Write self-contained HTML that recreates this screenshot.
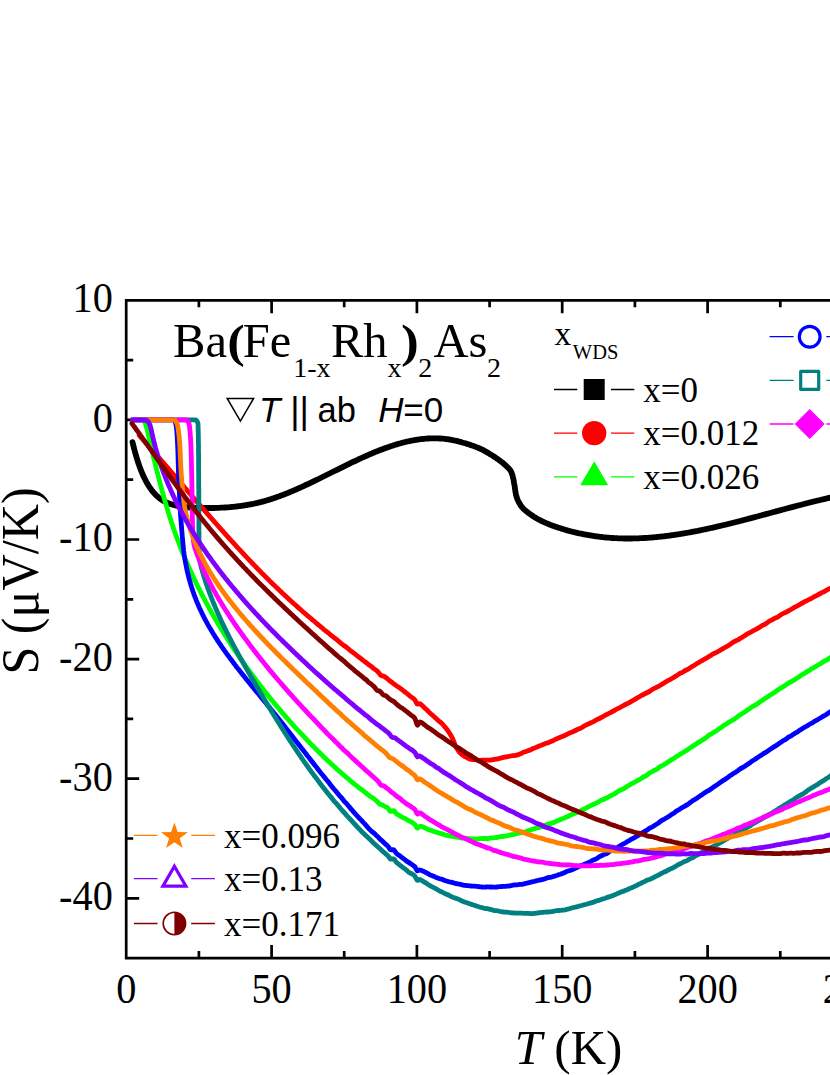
<!DOCTYPE html>
<html><head><meta charset="utf-8"><title>Thermoelectric power</title>
<style>
html,body{margin:0;padding:0;background:#fff;}
body{width:830px;height:1075px;overflow:hidden;font-family:"Liberation Serif",serif;}
svg{display:block;}
</style></head><body>
<svg width="830" height="1075" viewBox="0 0 830 1075">
<rect width="830" height="1075" fill="#fff"/>
<g stroke="#000" stroke-width="2.7" fill="none" stroke-linecap="square">
<path d="M126.2 300.3 V958.1 H832 M126.2 300.3 H832"/>
<path stroke-linecap="butt" d="M198.9 958.1 v-7 M198.9 300.3 v7 M271.6 958.1 v-13 M271.6 300.3 v13 M344.2 958.1 v-7 M344.2 300.3 v7 M416.9 958.1 v-13 M416.9 300.3 v13 M489.6 958.1 v-7 M489.6 300.3 v7 M562.2 958.1 v-13 M562.2 300.3 v13 M634.9 958.1 v-7 M634.9 300.3 v7 M707.6 958.1 v-13 M707.6 300.3 v13 M780.3 958.1 v-7 M780.3 300.3 v7 M853.0 958.1 v-13 M853.0 300.3 v13 M126.2 898.3 h13 M126.2 838.5 h7 M126.2 778.7 h13 M126.2 718.9 h7 M126.2 659.1 h13 M126.2 599.3 h7 M126.2 539.5 h13 M126.2 479.7 h7 M126.2 419.9 h13 M126.2 360.1 h7"/>
</g>
<defs><clipPath id="c"><rect x="126.2" y="300.3" width="713.8" height="657.8"/></clipPath></defs>
<g clip-path="url(#c)" fill="none" stroke-width="4.8" stroke-linejoin="round" stroke-linecap="round">
<path stroke="#000000" stroke-width="5.8" d="M132.5 442.1 L133.5 446.2 L134.5 450.1 L135.5 453.8 L136.5 457.2 L137.5 460.5 L138.5 463.5 L139.5 466.4 L140.5 469.1 L141.5 471.6 L142.5 474.0 L143.5 476.2 L144.5 478.3 L145.5 480.3 L146.5 482.2 L147.5 483.9 L148.5 485.5 L149.5 487.1 L150.5 488.5 L151.5 489.9 L152.5 491.2 L153.5 492.4 L154.5 493.5 L155.5 494.6 L156.5 495.6 L157.5 496.5 L158.5 497.4 L159.5 498.2 L160.5 499.0 L161.5 499.7 L162.5 500.3 L163.5 500.9 L164.5 501.5 L165.5 502.0 L166.5 502.5 L167.5 502.9 L168.5 503.3 L169.5 503.7 L170.5 504.0 L171.5 504.3 L172.5 504.6 L173.5 504.9 L174.5 505.1 L175.5 505.4 L176.5 505.6 L177.5 505.8 L178.5 506.0 L179.5 506.2 L180.5 506.4 L181.5 506.5 L182.5 506.7 L183.5 506.8 L184.5 507.0 L185.5 507.1 L186.5 507.2 L187.5 507.3 L188.5 507.4 L189.5 507.5 L190.5 507.6 L191.5 507.6 L192.5 507.7 L193.5 507.8 L194.5 507.8 L195.5 507.9 L196.5 507.9 L197.5 507.9 L198.5 508.0 L199.5 508.0 L200.5 508.0 L201.5 508.0 L202.5 508.0 L203.5 508.0 L204.5 508.0 L205.5 508.0 L206.5 508.0 L207.5 508.0 L208.5 508.0 L209.5 508.0 L210.5 508.0 L211.5 508.0 L212.5 508.0 L213.5 508.0 L214.5 508.0 L215.5 507.9 L216.5 507.9 L217.5 507.9 L218.5 507.8 L219.5 507.8 L220.5 507.7 L221.5 507.7 L222.5 507.6 L223.5 507.6 L224.5 507.5 L225.5 507.5 L226.5 507.4 L227.5 507.3 L228.5 507.3 L229.5 507.2 L230.5 507.1 L231.5 507.0 L232.5 506.9 L233.5 506.8 L234.5 506.7 L235.5 506.6 L236.5 506.5 L237.5 506.4 L238.5 506.2 L239.5 506.1 L240.5 506.0 L241.5 505.8 L242.5 505.7 L243.5 505.6 L244.5 505.4 L245.5 505.2 L246.5 505.1 L247.5 504.9 L248.5 504.7 L249.5 504.5 L250.5 504.4 L251.5 504.2 L252.5 504.0 L253.5 503.8 L254.5 503.5 L255.5 503.3 L256.5 503.1 L257.5 502.9 L258.5 502.6 L259.5 502.4 L260.5 502.1 L261.5 501.9 L262.5 501.6 L263.5 501.3 L264.5 501.1 L265.5 500.8 L266.5 500.5 L267.5 500.2 L268.5 499.9 L269.5 499.6 L270.5 499.3 L271.5 498.9 L272.5 498.6 L273.5 498.3 L274.5 497.9 L275.5 497.6 L276.5 497.2 L277.5 496.9 L278.5 496.5 L279.5 496.2 L280.5 495.8 L281.5 495.4 L282.5 495.0 L283.5 494.7 L284.5 494.3 L285.5 493.9 L286.5 493.5 L287.5 493.1 L288.5 492.7 L289.5 492.3 L290.5 491.8 L291.5 491.4 L292.5 491.0 L293.5 490.6 L294.5 490.1 L295.5 489.7 L296.5 489.3 L297.5 488.8 L298.5 488.4 L299.5 487.9 L300.5 487.5 L301.5 487.0 L302.5 486.6 L303.5 486.1 L304.5 485.7 L305.5 485.2 L306.5 484.7 L307.5 484.3 L308.5 483.8 L309.5 483.3 L310.5 482.9 L311.5 482.4 L312.5 481.9 L313.5 481.4 L314.5 480.9 L315.5 480.4 L316.5 480.0 L317.5 479.5 L318.5 479.0 L319.5 478.5 L320.5 478.0 L321.5 477.5 L322.5 477.0 L323.5 476.5 L324.5 476.0 L325.5 475.5 L326.5 475.0 L327.5 474.5 L328.5 474.0 L329.5 473.5 L330.5 473.0 L331.5 472.5 L332.5 472.0 L333.5 471.5 L334.5 471.0 L335.5 470.6 L336.5 470.1 L337.5 469.6 L338.5 469.1 L339.5 468.6 L340.5 468.1 L341.5 467.6 L342.5 467.1 L343.5 466.6 L344.5 466.1 L345.5 465.6 L346.5 465.1 L347.5 464.6 L348.5 464.1 L349.5 463.7 L350.5 463.2 L351.5 462.7 L352.5 462.2 L353.5 461.7 L354.5 461.3 L355.5 460.8 L356.5 460.3 L357.5 459.9 L358.5 459.4 L359.5 458.9 L360.5 458.5 L361.5 458.0 L362.5 457.5 L363.5 457.1 L364.5 456.6 L365.5 456.2 L366.5 455.8 L367.5 455.3 L368.5 454.9 L369.5 454.4 L370.5 454.0 L371.5 453.6 L372.5 453.2 L373.5 452.7 L374.5 452.3 L375.5 451.9 L376.5 451.5 L377.5 451.1 L378.5 450.7 L379.5 450.3 L380.5 449.9 L381.5 449.6 L382.5 449.2 L383.5 448.8 L384.5 448.4 L385.5 448.1 L386.5 447.7 L387.5 447.4 L388.5 447.0 L389.5 446.7 L390.5 446.3 L391.5 446.0 L392.5 445.7 L393.5 445.3 L394.5 445.0 L395.5 444.7 L396.5 444.4 L397.5 444.1 L398.5 443.8 L399.5 443.5 L400.5 443.3 L401.5 443.0 L402.5 442.7 L403.5 442.5 L404.5 442.2 L405.5 442.0 L406.5 441.7 L407.5 441.5 L408.5 441.3 L409.5 441.1 L410.5 440.9 L411.5 440.7 L412.5 440.5 L413.5 440.3 L414.5 440.1 L415.5 439.9 L416.5 439.8 L417.5 439.6 L418.5 439.5 L419.5 439.3 L420.5 439.2 L421.5 439.1 L422.5 439.0 L423.5 438.9 L424.5 438.8 L425.5 438.7 L426.5 438.6 L427.5 438.5 L428.5 438.5 L429.5 438.4 L430.5 438.4 L431.5 438.4 L432.5 438.3 L433.5 438.3 L434.5 438.3 L435.5 438.3 L436.5 438.3 L437.5 438.4 L438.5 438.4 L439.5 438.5 L440.5 438.5 L441.5 438.6 L442.5 438.7 L443.5 438.7 L444.5 438.8 L445.5 439.0 L446.5 439.1 L447.5 439.2 L448.5 439.4 L449.5 439.5 L450.5 439.7 L451.5 439.9 L452.5 440.1 L453.5 440.3 L454.5 440.5 L455.5 440.7 L456.5 440.9 L457.5 441.2 L458.5 441.4 L459.4 441.7 L460.4 441.9 L461.4 442.2 L462.3 442.5 L463.3 442.8 L464.3 443.0 L465.3 443.3 L466.2 443.6 L467.2 443.9 L468.2 444.2 L469.2 444.5 L470.1 444.9 L471.1 445.2 L472.0 445.5 L473.0 445.8 L473.9 446.2 L474.9 446.5 L475.8 446.9 L476.8 447.3 L477.7 447.6 L478.6 448.0 L479.5 448.4 L480.4 448.8 L481.4 449.2 L482.3 449.7 L483.2 450.1 L484.1 450.6 L485.0 451.1 L485.8 451.6 L486.7 452.1 L487.6 452.6 L488.5 453.1 L489.4 453.7 L490.2 454.2 L491.1 454.7 L491.9 455.3 L492.8 455.8 L493.6 456.4 L494.5 456.9 L495.3 457.5 L496.2 458.0 L497.0 458.6 L497.8 459.2 L498.7 459.8 L499.5 460.4 L500.3 461.0 L501.1 461.6 L501.9 462.2 L502.7 462.8 L503.5 463.5 L504.3 464.2 L505.0 464.8 L505.7 465.5 L506.5 466.2 L507.2 466.9 L508.0 467.7 L508.7 468.4 L509.4 469.2 L510.1 470.0 L510.6 470.8 L511.1 471.6 L511.5 472.5 L511.8 473.4 L512.1 474.3 L512.4 475.2 L512.7 476.2 L512.9 477.2 L513.1 478.2 L513.4 479.2 L513.6 480.3 L513.8 481.3 L513.9 482.3 L514.1 483.3 L514.3 484.3 L514.5 485.3 L514.7 486.3 L514.8 487.3 L514.9 488.3 L515.1 489.3 L515.2 490.3 L515.4 491.4 L515.5 492.3 L515.7 493.3 L515.9 494.3 L516.1 495.3 L516.4 496.2 L516.7 497.2 L517.0 498.2 L517.4 499.1 L517.8 500.1 L518.2 501.0 L518.7 502.0 L519.2 502.9 L519.7 503.8 L520.2 504.6 L520.7 505.4 L521.3 506.2 L521.9 507.0 L522.5 507.7 L523.2 508.5 L523.9 509.2 L524.7 509.9 L525.5 510.6 L526.3 511.2 L527.1 511.9 L527.9 512.5 L528.7 513.1 L529.5 513.7 L530.4 514.3 L531.2 514.9 L532.0 515.5 L532.8 516.0 L533.7 516.6 L534.5 517.1 L535.4 517.6 L536.3 518.2 L537.2 518.7 L538.1 519.2 L539.0 519.7 L539.9 520.1 L540.8 520.6 L541.7 521.0 L542.6 521.5 L543.5 521.9 L544.4 522.3 L545.3 522.7 L546.2 523.1 L547.2 523.5 L548.1 523.9 L549.0 524.3 L550.0 524.7 L550.9 525.0 L551.9 525.4 L552.8 525.7 L553.8 526.1 L554.8 526.4 L555.7 526.7 L556.7 527.1 L557.6 527.4 L558.6 527.7 L559.6 528.0 L560.5 528.3 L561.5 528.6 L562.4 528.9 L563.4 529.2 L564.4 529.5 L565.3 529.8 L566.3 530.1 L567.3 530.4 L568.3 530.7 L569.2 531.0 L570.2 531.2 L571.2 531.5 L572.2 531.7 L573.1 532.0 L574.1 532.2 L575.1 532.4 L576.1 532.7 L577.1 532.9 L578.1 533.1 L579.1 533.3 L580.0 533.5 L581.0 533.7 L582.0 533.9 L583.0 534.1 L584.0 534.3 L585.0 534.5 L586.0 534.6 L587.0 534.8 L588.0 535.0 L589.0 535.1 L590.0 535.3 L591.0 535.5 L592.0 535.6 L593.0 535.8 L594.0 536.0 L595.0 536.1 L596.0 536.3 L597.0 536.4 L598.0 536.5 L599.0 536.7 L600.0 536.8 L601.0 536.9 L602.0 537.0 L603.0 537.2 L604.0 537.3 L605.0 537.4 L606.0 537.5 L607.0 537.6 L608.0 537.6 L609.0 537.7 L610.0 537.8 L611.0 537.9 L612.0 538.0 L613.0 538.0 L614.0 538.1 L615.0 538.1 L616.0 538.2 L617.0 538.2 L618.0 538.3 L619.0 538.3 L620.0 538.4 L621.0 538.4 L622.0 538.4 L623.0 538.4 L624.0 538.5 L625.0 538.5 L626.0 538.5 L627.0 538.5 L628.0 538.5 L629.0 538.5 L630.0 538.5 L631.0 538.5 L632.0 538.5 L633.0 538.4 L634.0 538.4 L635.0 538.4 L636.0 538.4 L637.0 538.3 L638.0 538.3 L639.0 538.3 L640.0 538.2 L641.0 538.2 L642.0 538.1 L643.0 538.1 L644.0 538.0 L645.0 538.0 L646.0 537.9 L647.0 537.9 L648.0 537.8 L649.0 537.7 L650.0 537.6 L651.0 537.6 L652.0 537.5 L653.0 537.4 L654.0 537.3 L655.0 537.2 L656.0 537.1 L657.0 537.0 L658.0 536.9 L659.0 536.8 L660.0 536.7 L661.0 536.6 L662.0 536.5 L663.0 536.4 L664.0 536.3 L665.0 536.1 L666.0 536.0 L667.0 535.9 L668.0 535.8 L669.0 535.6 L670.0 535.5 L671.0 535.4 L672.0 535.2 L673.0 535.1 L674.0 534.9 L675.0 534.8 L676.0 534.6 L677.0 534.5 L678.0 534.3 L679.0 534.2 L680.0 534.0 L681.0 533.9 L682.0 533.7 L683.0 533.5 L684.0 533.4 L685.0 533.2 L686.0 533.0 L687.0 532.8 L688.0 532.7 L689.0 532.5 L690.0 532.3 L691.0 532.1 L692.0 531.9 L693.0 531.7 L694.0 531.6 L695.0 531.4 L696.0 531.2 L697.0 531.0 L698.0 530.8 L699.0 530.6 L700.0 530.4 L701.0 530.2 L702.0 530.0 L703.0 529.7 L704.0 529.5 L705.0 529.3 L706.0 529.1 L707.0 528.9 L708.0 528.7 L709.0 528.5 L710.0 528.2 L711.0 528.0 L712.0 527.8 L713.0 527.6 L714.0 527.3 L715.0 527.1 L716.0 526.9 L717.0 526.7 L718.0 526.4 L719.0 526.2 L720.0 526.0 L721.0 525.7 L722.0 525.5 L723.0 525.2 L724.0 525.0 L725.0 524.8 L726.0 524.5 L727.0 524.3 L728.0 524.0 L729.0 523.8 L730.0 523.5 L731.0 523.3 L732.0 523.0 L733.0 522.8 L734.0 522.5 L735.0 522.3 L736.0 522.0 L737.0 521.8 L738.0 521.5 L739.0 521.3 L740.0 521.0 L741.0 520.8 L742.0 520.5 L743.0 520.2 L744.0 520.0 L745.0 519.7 L746.0 519.5 L747.0 519.2 L748.0 518.9 L749.0 518.7 L750.0 518.4 L751.0 518.1 L752.0 517.9 L753.0 517.6 L754.0 517.3 L755.0 517.1 L756.0 516.8 L757.0 516.5 L758.0 516.3 L759.0 516.0 L760.0 515.7 L761.0 515.5 L762.0 515.2 L763.0 514.9 L764.0 514.7 L765.0 514.4 L766.0 514.1 L767.0 513.8 L768.0 513.6 L769.0 513.3 L770.0 513.0 L771.0 512.8 L772.0 512.5 L773.0 512.2 L774.0 512.0 L775.0 511.7 L776.0 511.4 L777.0 511.1 L778.0 510.9 L779.0 510.6 L780.0 510.3 L781.0 510.1 L782.0 509.8 L783.0 509.5 L784.0 509.3 L785.0 509.0 L786.0 508.7 L787.0 508.5 L788.0 508.2 L789.0 507.9 L790.0 507.7 L791.0 507.4 L792.0 507.1 L793.0 506.9 L794.0 506.6 L795.0 506.3 L796.0 506.1 L797.0 505.8 L798.0 505.5 L799.0 505.3 L800.0 505.0 L801.0 504.8 L802.0 504.5 L803.0 504.3 L804.0 504.0 L805.0 503.7 L806.0 503.5 L807.0 503.2 L808.0 503.0 L809.0 502.7 L810.0 502.5 L811.0 502.2 L812.0 502.0 L813.0 501.7 L814.0 501.5 L815.0 501.2 L816.0 501.0 L817.0 500.7 L818.0 500.5 L819.0 500.3 L820.0 500.0 L821.0 499.8 L822.0 499.5 L823.0 499.3 L824.0 499.1 L825.0 498.8 L826.0 498.6 L827.0 498.4 L828.0 498.2 L829.0 497.9 L830.0 497.7 L831.0 497.5 L832.0 497.2"/>
<path stroke="#ff0000" stroke-width="4.8" d="M139.2 435.3 L139.8 436.0 L140.5 436.8 L141.2 437.5 L141.8 438.3 L142.5 439.0 L143.1 439.7 L143.8 440.5 L144.4 441.2 L145.1 441.9 L145.7 442.7 L146.4 443.4 L147.1 444.2 L147.7 444.9 L148.4 445.6 L149.0 446.4 L149.7 447.1 L150.3 447.9 L151.0 448.6 L151.6 449.4 L152.3 450.1 L152.9 450.9 L153.6 451.6 L154.3 452.3 L154.9 453.1 L155.6 453.8 L156.2 454.6 L156.9 455.3 L157.5 456.1 L158.2 456.8 L158.8 457.6 L159.5 458.3 L160.1 459.1 L160.8 459.8 L161.4 460.6 L162.1 461.3 L162.7 462.1 L163.4 462.8 L164.0 463.6 L164.7 464.3 L165.3 465.1 L166.0 465.8 L166.6 466.6 L167.3 467.3 L167.9 468.1 L168.6 468.9 L169.2 469.6 L169.9 470.4 L170.6 471.1 L171.2 471.9 L171.9 472.6 L172.5 473.4 L173.2 474.1 L173.8 474.9 L174.5 475.6 L175.1 476.4 L175.8 477.2 L176.4 477.9 L177.1 478.7 L177.7 479.4 L178.4 480.2 L179.0 480.9 L179.7 481.7 L180.3 482.5 L181.0 483.2 L181.6 484.0 L182.3 484.7 L182.9 485.5 L183.6 486.2 L184.2 487.0 L184.9 487.8 L185.5 488.5 L186.2 489.3 L186.8 490.0 L187.5 490.8 L188.1 491.6 L188.8 492.3 L189.5 493.1 L190.1 493.8 L190.8 494.6 L191.4 495.3 L192.1 496.1 L192.7 496.9 L193.4 497.6 L194.0 498.4 L194.7 499.1 L195.3 499.9 L196.0 500.6 L196.6 501.4 L197.3 502.2 L198.0 502.9 L198.6 503.7 L199.3 504.4 L199.9 505.2 L200.6 505.9 L201.2 506.7 L201.9 507.5 L202.6 508.2 L203.2 509.0 L203.9 509.7 L204.5 510.5 L205.2 511.2 L205.8 512.0 L206.5 512.8 L207.2 513.5 L207.8 514.3 L208.5 515.0 L209.1 515.8 L209.8 516.5 L210.5 517.3 L211.1 518.0 L211.8 518.8 L212.5 519.5 L213.1 520.3 L213.8 521.0 L214.4 521.8 L215.1 522.5 L215.8 523.3 L216.4 524.1 L217.1 524.8 L217.8 525.6 L218.4 526.3 L219.1 527.1 L219.8 527.8 L220.4 528.6 L221.1 529.3 L221.8 530.1 L222.4 530.8 L223.1 531.5 L223.8 532.3 L224.4 533.0 L225.1 533.8 L225.8 534.5 L226.4 535.3 L227.1 536.0 L227.8 536.8 L228.5 537.5 L229.1 538.3 L229.8 539.0 L230.5 539.7 L231.2 540.5 L231.8 541.2 L232.5 542.0 L233.2 542.7 L233.9 543.5 L234.5 544.2 L235.2 544.9 L235.9 545.7 L236.6 546.4 L237.2 547.2 L237.9 547.9 L238.6 548.6 L239.3 549.4 L240.0 550.1 L240.6 550.8 L241.3 551.6 L242.0 552.3 L242.7 553.0 L243.4 553.8 L244.1 554.5 L244.7 555.2 L245.4 556.0 L246.1 556.7 L246.8 557.4 L247.5 558.1 L248.2 558.9 L248.9 559.6 L249.6 560.3 L250.3 561.1 L250.9 561.8 L251.6 562.5 L252.3 563.2 L253.0 563.9 L253.7 564.7 L254.4 565.4 L255.1 566.1 L255.8 566.8 L256.5 567.6 L257.2 568.3 L257.9 569.0 L258.6 569.7 L259.3 570.4 L260.0 571.1 L260.7 571.8 L261.4 572.6 L262.1 573.3 L262.8 574.0 L263.5 574.7 L264.2 575.4 L264.9 576.1 L265.6 576.8 L266.3 577.5 L267.0 578.2 L267.8 578.9 L268.5 579.6 L269.2 580.4 L269.9 581.1 L270.6 581.8 L271.3 582.5 L272.0 583.2 L272.7 583.9 L273.5 584.6 L274.2 585.2 L274.9 585.9 L275.6 586.6 L276.3 587.3 L277.1 588.0 L277.8 588.7 L278.5 589.4 L279.2 590.1 L279.9 590.8 L280.7 591.5 L281.4 592.2 L282.1 592.9 L282.8 593.5 L283.6 594.2 L284.3 594.9 L285.0 595.6 L285.8 596.3 L286.5 596.9 L287.2 597.6 L288.0 598.3 L288.7 599.0 L289.4 599.6 L290.2 600.3 L290.9 601.0 L291.7 601.7 L292.4 602.3 L293.1 603.0 L293.9 603.7 L294.6 604.3 L295.4 605.0 L296.1 605.6 L296.9 606.3 L297.6 607.0 L298.3 607.7 L299.1 608.3 L299.8 609.0 L300.6 609.6 L301.3 610.3 L302.1 611.0 L302.8 611.6 L303.6 612.3 L304.4 612.9 L305.1 613.6 L305.9 614.2 L306.6 614.9 L307.4 615.5 L308.1 616.2 L308.9 616.8 L309.7 617.4 L310.4 618.1 L311.2 618.7 L311.9 619.4 L312.7 620.0 L313.5 620.7 L314.2 621.3 L315.0 622.0 L315.8 622.6 L316.5 623.3 L317.3 623.9 L318.1 624.6 L318.8 625.2 L319.6 625.8 L320.4 626.5 L321.1 627.1 L321.9 627.7 L322.7 628.4 L323.4 629.1 L324.2 629.8 L325.0 630.4 L325.8 631.0 L326.5 631.5 L327.3 632.1 L328.1 632.7 L328.9 633.4 L329.6 634.1 L330.4 634.7 L331.2 635.4 L332.0 636.0 L332.8 636.6 L333.5 637.2 L334.3 637.8 L335.1 638.4 L335.9 639.0 L336.7 639.6 L337.5 640.2 L338.2 640.9 L339.0 641.6 L339.8 642.2 L340.6 642.9 L341.4 643.6 L342.2 644.2 L342.9 644.8 L343.7 645.4 L344.5 645.9 L345.3 646.4 L346.1 647.0 L346.9 647.6 L347.7 648.3 L348.5 649.0 L349.2 649.6 L350.0 650.3 L350.8 650.9 L351.6 651.5 L352.4 652.1 L353.2 652.7 L354.0 653.2 L354.8 653.8 L355.6 654.5 L356.4 655.2 L357.2 655.8 L358.0 656.4 L358.8 657.0 L359.5 657.5 L360.3 658.1 L361.1 658.7 L361.9 659.4 L362.7 660.1 L363.5 660.7 L364.3 661.3 L365.1 661.9 L365.9 662.4 L366.7 663.0 L367.5 663.7 L368.3 664.4 L369.1 665.0 L369.9 665.5 L370.7 666.0 L371.5 666.6 L372.3 667.3 L373.1 668.1 L373.9 668.7 L374.7 669.2 L375.5 669.7 L376.3 670.3 L377.1 671.0 L377.9 671.8 L378.7 672.7 L379.5 673.7 L380.3 674.8 L381.1 675.5 L381.9 675.8 L382.7 675.9 L383.5 676.1 L384.3 676.5 L385.1 677.1 L385.9 677.6 L386.7 678.2 L387.5 678.8 L388.3 679.5 L389.1 680.3 L389.9 680.9 L390.7 681.5 L391.5 682.1 L392.3 682.6 L393.1 683.3 L393.9 683.9 L394.7 684.5 L395.5 685.1 L396.3 685.7 L397.1 686.3 L397.9 686.7 L398.7 687.2 L399.5 687.7 L400.3 688.3 L401.1 689.0 L401.9 689.6 L402.7 690.2 L403.5 690.7 L404.3 691.4 L405.1 692.1 L405.9 692.8 L406.7 693.3 L407.5 693.9 L408.3 694.6 L409.1 695.3 L409.9 696.0 L410.7 696.6 L411.5 697.2 L412.3 697.7 L413.1 698.2 L413.9 698.9 L414.7 699.7 L415.5 701.0 L416.3 702.6 L417.1 704.0 L417.9 704.2 L418.7 703.8 L419.5 703.6 L420.3 704.0 L421.1 704.6 L421.9 705.2 L422.6 705.9 L423.4 706.7 L424.1 707.4 L424.9 708.1 L425.6 708.8 L426.4 709.5 L427.1 710.1 L427.8 710.8 L428.5 711.6 L429.3 712.4 L430.0 713.1 L430.7 713.7 L431.4 714.3 L432.2 714.9 L432.9 715.7 L433.6 716.3 L434.4 717.0 L435.2 717.6 L435.9 718.3 L436.7 719.0 L437.5 719.8 L438.3 720.6 L439.0 721.2 L439.8 721.8 L440.6 722.3 L441.3 723.0 L442.1 723.7 L442.8 724.4 L443.5 725.3 L444.2 726.1 L444.8 726.8 L445.5 727.6 L446.1 728.4 L446.7 729.2 L447.3 730.0 L447.9 730.8 L448.5 731.6 L449.1 732.5 L449.6 733.4 L450.2 734.2 L450.7 735.1 L451.2 736.0 L451.7 736.9 L452.2 737.8 L452.6 738.7 L453.0 739.6 L453.4 740.5 L453.8 741.4 L454.1 742.3 L454.4 743.3 L454.8 744.4 L455.1 745.4 L455.5 746.2 L455.9 747.0 L456.4 747.7 L456.9 748.6 L457.5 749.4 L458.1 750.3 L458.7 751.3 L459.4 752.2 L460.1 753.0 L460.9 753.7 L461.6 754.4 L462.4 754.9 L463.2 755.5 L464.0 756.1 L464.9 756.6 L465.8 757.0 L466.7 757.5 L467.6 758.0 L468.6 758.5 L469.5 759.0 L470.5 759.3 L471.5 759.5 L472.4 759.5 L473.4 759.5 L474.4 759.5 L475.4 759.5 L476.4 759.7 L477.4 760.0 L478.4 760.3 L479.5 760.4 L480.5 760.3 L481.5 760.2 L482.6 760.1 L483.6 760.1 L484.6 760.2 L485.6 760.2 L486.6 760.2 L487.6 760.2 L488.6 760.2 L489.6 760.1 L490.6 760.0 L491.6 759.9 L492.6 759.8 L493.6 759.5 L494.6 759.4 L495.6 759.2 L496.6 759.1 L497.6 758.8 L498.6 758.6 L499.6 758.4 L500.6 758.1 L501.6 757.9 L502.6 757.6 L503.6 757.4 L504.6 757.2 L505.6 757.0 L506.6 756.9 L507.6 756.7 L508.6 756.5 L509.6 756.2 L510.6 756.0 L511.6 755.8 L512.6 755.7 L513.5 755.7 L514.5 755.6 L515.5 755.4 L516.5 755.2 L517.5 754.9 L518.5 754.6 L519.4 754.2 L520.4 753.8 L521.4 753.3 L522.3 752.8 L523.3 752.3 L524.2 752.0 L525.2 751.8 L526.1 751.4 L527.1 751.0 L528.0 750.7 L529.0 750.4 L529.9 750.1 L530.8 749.8 L531.8 749.2 L532.7 748.7 L533.6 748.3 L534.6 748.0 L535.5 747.6 L536.5 747.2 L537.4 746.8 L538.4 746.3 L539.4 745.9 L540.4 745.5 L541.4 745.2 L542.4 744.8 L543.4 744.3 L544.4 743.9 L545.4 743.5 L546.4 743.2 L547.4 742.9 L548.4 742.6 L549.4 742.2 L550.4 741.7 L551.4 741.3 L552.4 740.9 L553.4 740.5 L554.4 739.9 L555.4 739.4 L556.4 738.9 L557.4 738.5 L558.4 738.1 L559.4 737.7 L560.4 737.2 L561.4 736.8 L562.4 736.4 L563.4 736.0 L564.4 735.6 L565.4 735.2 L566.4 734.6 L567.4 734.1 L568.4 733.6 L569.4 733.1 L570.4 732.7 L571.4 732.3 L572.4 731.9 L573.4 731.5 L574.4 731.0 L575.4 730.5 L576.4 730.0 L577.4 729.5 L578.4 729.1 L579.4 728.7 L580.4 728.3 L581.4 727.8 L582.4 727.2 L583.4 726.5 L584.4 725.9 L585.4 725.4 L586.4 724.9 L587.4 724.4 L588.4 723.9 L589.4 723.5 L590.4 723.0 L591.4 722.6 L592.4 722.2 L593.4 721.7 L594.4 721.1 L595.4 720.5 L596.4 719.9 L597.4 719.4 L598.4 719.0 L599.4 718.5 L600.4 718.0 L601.4 717.5 L602.4 716.9 L603.4 716.3 L604.4 715.7 L605.4 715.1 L606.4 714.6 L607.4 714.1 L608.4 713.7 L609.4 713.2 L610.4 712.7 L611.4 712.1 L612.4 711.5 L613.4 711.0 L614.4 710.5 L615.4 709.9 L616.4 709.3 L617.4 708.7 L618.4 708.3 L619.4 707.8 L620.4 707.3 L621.4 706.7 L622.4 706.2 L623.4 705.6 L624.4 705.0 L625.4 704.5 L626.4 704.0 L627.4 703.6 L628.4 703.1 L629.4 702.5 L630.4 702.0 L631.4 701.4 L632.4 700.9 L633.4 700.2 L634.4 699.6 L635.4 699.0 L636.4 698.5 L637.4 697.9 L638.4 697.3 L639.4 696.7 L640.4 696.1 L641.4 695.5 L642.4 695.0 L643.4 694.5 L644.4 694.0 L645.4 693.5 L646.4 693.0 L647.4 692.5 L648.4 692.0 L649.4 691.5 L650.4 690.8 L651.4 690.1 L652.4 689.4 L653.4 688.8 L654.4 688.3 L655.4 687.8 L656.4 687.3 L657.4 686.8 L658.4 686.3 L659.4 685.8 L660.4 685.2 L661.4 684.6 L662.4 684.0 L663.4 683.4 L664.4 682.7 L665.4 682.1 L666.4 681.5 L667.4 680.9 L668.4 680.4 L669.4 679.9 L670.4 679.4 L671.4 678.8 L672.4 678.2 L673.4 677.6 L674.4 677.0 L675.4 676.4 L676.4 675.8 L677.4 675.1 L678.4 674.4 L679.4 673.7 L680.4 673.2 L681.4 672.8 L682.4 672.3 L683.4 671.7 L684.4 671.0 L685.4 670.5 L686.4 670.0 L687.4 669.6 L688.4 669.0 L689.4 668.4 L690.4 667.6 L691.4 667.0 L692.4 666.4 L693.4 665.8 L694.4 665.3 L695.4 664.6 L696.4 663.9 L697.4 663.3 L698.4 662.7 L699.4 662.1 L700.4 661.5 L701.4 660.9 L702.4 660.4 L703.4 659.8 L704.4 659.2 L705.4 658.6 L706.4 658.1 L707.4 657.5 L708.4 656.9 L709.4 656.3 L710.4 655.7 L711.4 655.0 L712.4 654.3 L713.4 653.7 L714.4 653.3 L715.4 652.9 L716.4 652.4 L717.4 651.9 L718.4 651.3 L719.4 650.7 L720.4 650.1 L721.4 649.5 L722.4 649.0 L723.4 648.4 L724.4 647.8 L725.4 647.2 L726.4 646.6 L727.4 646.1 L728.4 645.5 L729.4 644.9 L730.4 644.2 L731.4 643.5 L732.4 642.7 L733.4 642.1 L734.4 641.5 L735.4 641.0 L736.4 640.6 L737.4 640.1 L738.4 639.6 L739.4 639.0 L740.4 638.3 L741.4 637.7 L742.4 637.1 L743.4 636.5 L744.4 635.9 L745.4 635.2 L746.4 634.5 L747.4 633.9 L748.4 633.3 L749.4 632.8 L750.4 632.3 L751.4 631.8 L752.4 631.2 L753.4 630.7 L754.4 630.1 L755.4 629.6 L756.4 629.1 L757.4 628.5 L758.4 628.0 L759.4 627.4 L760.4 626.7 L761.4 626.0 L762.4 625.4 L763.4 624.9 L764.4 624.5 L765.4 624.0 L766.4 623.3 L767.4 622.6 L768.4 621.8 L769.4 621.1 L770.4 620.6 L771.4 620.1 L772.4 619.6 L773.4 619.0 L774.4 618.4 L775.4 618.0 L776.4 617.6 L777.4 617.2 L778.4 616.6 L779.4 615.8 L780.4 615.1 L781.4 614.4 L782.4 613.9 L783.4 613.4 L784.4 612.9 L785.4 612.5 L786.4 612.0 L787.4 611.5 L788.4 610.9 L789.4 610.3 L790.4 609.8 L791.4 609.2 L792.4 608.6 L793.4 608.0 L794.4 607.4 L795.4 606.8 L796.4 606.3 L797.4 605.8 L798.4 605.3 L799.4 604.7 L800.4 604.1 L801.4 603.5 L802.4 603.0 L803.4 602.5 L804.4 601.9 L805.4 601.3 L806.4 600.8 L807.4 600.3 L808.4 599.8 L809.4 599.3 L810.4 598.8 L811.4 598.4 L812.4 597.8 L813.4 597.2 L814.4 596.7 L815.4 596.2 L816.4 595.7 L817.4 595.1 L818.4 594.5 L819.4 594.0 L820.4 593.5 L821.4 592.9 L822.4 592.4 L823.4 591.9 L824.4 591.5 L825.4 590.9 L826.4 590.3 L827.4 589.7 L828.4 589.2 L829.4 588.7 L830.4 588.3 L831.4 587.8"/>
<path stroke="#00ff00" stroke-width="4.8" d="M132.3 419.9 L133.7 419.9 L135.0 419.9 L136.3 419.9 L137.5 419.9 L138.7 419.9 L139.7 419.9 L140.6 419.9 L141.5 419.9 L142.2 420.0 L142.9 420.2 L143.5 420.5 L144.1 421.1 L144.6 421.9 L145.1 422.8 L145.5 424.0 L145.9 425.2 L146.3 426.4 L146.6 427.6 L146.9 428.8 L147.2 429.9 L147.5 430.9 L147.7 432.0 L148.0 433.0 L148.2 434.0 L148.4 435.0 L148.6 436.0 L148.9 437.0 L149.1 438.0 L149.3 439.0 L149.6 440.0 L149.8 441.0 L150.0 442.0 L150.3 443.0 L150.5 444.0 L150.7 445.0 L150.9 446.0 L151.2 447.0 L151.4 448.0 L151.6 448.9 L151.9 449.9 L152.1 450.9 L152.3 451.9 L152.6 452.9 L152.8 453.9 L153.0 454.9 L153.3 455.9 L153.5 456.9 L153.7 457.9 L154.0 458.8 L154.2 459.8 L154.5 460.8 L154.7 461.8 L154.9 462.8 L155.2 463.8 L155.4 464.7 L155.7 465.7 L155.9 466.7 L156.1 467.7 L156.4 468.7 L156.6 469.6 L156.9 470.6 L157.1 471.6 L157.3 472.6 L157.6 473.6 L157.8 474.5 L158.1 475.5 L158.3 476.5 L158.6 477.5 L158.8 478.4 L159.1 479.4 L159.3 480.4 L159.6 481.3 L159.8 482.3 L160.1 483.3 L160.3 484.2 L160.6 485.2 L160.9 486.2 L161.1 487.1 L161.4 488.1 L161.6 489.1 L161.9 490.0 L162.2 491.0 L162.4 492.0 L162.7 492.9 L163.0 493.9 L163.2 494.8 L163.5 495.8 L163.8 496.8 L164.0 497.7 L164.3 498.7 L164.6 499.6 L164.8 500.6 L165.1 501.5 L165.4 502.5 L165.7 503.5 L166.0 504.4 L166.2 505.4 L166.5 506.3 L166.8 507.3 L167.1 508.2 L167.4 509.2 L167.7 510.1 L167.9 511.1 L168.2 512.0 L168.5 513.0 L168.8 513.9 L169.1 514.8 L169.4 515.8 L169.7 516.7 L170.0 517.7 L170.3 518.6 L170.6 519.6 L170.9 520.5 L171.2 521.4 L171.5 522.4 L171.8 523.3 L172.2 524.3 L172.5 525.2 L172.8 526.1 L173.1 527.1 L173.4 528.0 L173.7 528.9 L174.1 529.9 L174.4 530.8 L174.7 531.7 L175.0 532.7 L175.4 533.6 L175.7 534.5 L176.0 535.5 L176.4 536.4 L176.7 537.3 L177.0 538.2 L177.4 539.2 L177.7 540.1 L178.1 541.0 L178.4 541.9 L178.8 542.9 L179.1 543.8 L179.5 544.7 L179.8 545.6 L180.2 546.5 L180.5 547.5 L180.9 548.4 L181.3 549.3 L181.6 550.2 L182.0 551.1 L182.4 552.1 L182.7 553.0 L183.1 553.9 L183.5 554.8 L183.9 555.7 L184.2 556.6 L184.6 557.5 L185.0 558.5 L185.4 559.4 L185.8 560.3 L186.2 561.2 L186.6 562.1 L186.9 563.0 L187.3 563.9 L187.7 564.8 L188.1 565.7 L188.5 566.6 L188.9 567.5 L189.3 568.4 L189.7 569.3 L190.1 570.2 L190.6 571.1 L191.0 572.0 L191.4 572.9 L191.8 573.8 L192.2 574.7 L192.6 575.6 L193.0 576.5 L193.5 577.4 L193.9 578.3 L194.3 579.2 L194.7 580.1 L195.2 581.0 L195.6 581.9 L196.0 582.8 L196.4 583.7 L196.9 584.6 L197.3 585.4 L197.8 586.3 L198.2 587.2 L198.6 588.1 L199.1 589.0 L199.5 589.9 L200.0 590.8 L200.4 591.6 L200.9 592.5 L201.3 593.4 L201.8 594.3 L202.2 595.2 L202.7 596.0 L203.1 596.9 L203.6 597.8 L204.1 598.7 L204.5 599.6 L205.0 600.4 L205.4 601.3 L205.9 602.2 L206.4 603.1 L206.9 603.9 L207.3 604.8 L207.8 605.7 L208.3 606.6 L208.8 607.4 L209.2 608.3 L209.7 609.2 L210.2 610.0 L210.7 610.9 L211.2 611.8 L211.6 612.6 L212.1 613.5 L212.6 614.4 L213.1 615.2 L213.6 616.1 L214.1 616.9 L214.6 617.8 L215.1 618.7 L215.6 619.5 L216.1 620.4 L216.6 621.2 L217.1 622.1 L217.6 623.0 L218.1 623.8 L218.6 624.7 L219.1 625.5 L219.6 626.4 L220.2 627.2 L220.7 628.1 L221.2 628.9 L221.7 629.8 L222.2 630.6 L222.8 631.5 L223.3 632.3 L223.8 633.2 L224.3 634.0 L224.9 634.9 L225.4 635.7 L225.9 636.6 L226.4 637.4 L227.0 638.2 L227.5 639.1 L228.0 639.9 L228.6 640.8 L229.1 641.6 L229.7 642.5 L230.2 643.3 L230.8 644.1 L231.3 645.0 L231.8 645.8 L232.4 646.6 L232.9 647.5 L233.5 648.3 L234.0 649.1 L234.6 650.0 L235.2 650.8 L235.7 651.6 L236.3 652.5 L236.8 653.3 L237.4 654.1 L238.0 654.9 L238.5 655.8 L239.1 656.6 L239.7 657.4 L240.2 658.3 L240.8 659.1 L241.4 659.9 L241.9 660.7 L242.5 661.5 L243.1 662.4 L243.7 663.2 L244.2 664.0 L244.8 664.8 L245.4 665.6 L246.0 666.5 L246.6 667.3 L247.2 668.1 L247.7 668.9 L248.3 669.7 L248.9 670.5 L249.5 671.3 L250.1 672.2 L250.7 673.0 L251.3 673.8 L251.9 674.6 L252.5 675.4 L253.1 676.2 L253.7 677.0 L254.3 677.8 L254.9 678.6 L255.5 679.4 L256.1 680.2 L256.7 681.0 L257.3 681.8 L257.9 682.6 L258.6 683.4 L259.2 684.2 L259.8 685.0 L260.4 685.8 L261.0 686.6 L261.6 687.4 L262.3 688.2 L262.9 689.0 L263.5 689.8 L264.1 690.6 L264.8 691.4 L265.4 692.2 L266.0 693.0 L266.6 693.8 L267.3 694.6 L267.9 695.4 L268.5 696.1 L269.2 696.9 L269.8 697.7 L270.4 698.5 L271.1 699.3 L271.7 700.1 L272.4 700.9 L273.0 701.6 L273.7 702.4 L274.3 703.2 L274.9 704.0 L275.6 704.8 L276.2 705.5 L276.9 706.3 L277.5 707.1 L278.2 707.9 L278.9 708.6 L279.5 709.4 L280.2 710.2 L280.8 711.0 L281.5 711.7 L282.1 712.5 L282.8 713.3 L283.5 714.1 L284.1 714.8 L284.8 715.6 L285.5 716.4 L286.1 717.1 L286.8 717.9 L287.5 718.7 L288.2 719.4 L288.8 720.2 L289.5 720.9 L290.2 721.7 L290.9 722.5 L291.5 723.3 L292.2 724.0 L292.9 724.8 L293.6 725.5 L294.3 726.3 L294.9 727.1 L295.6 727.8 L296.3 728.6 L297.0 729.3 L297.7 730.1 L298.4 730.8 L299.1 731.5 L299.8 732.3 L300.5 733.0 L301.2 733.7 L301.9 734.5 L302.6 735.2 L303.3 736.0 L304.0 736.7 L304.7 737.4 L305.4 738.2 L306.1 739.0 L306.8 739.7 L307.5 740.4 L308.2 741.2 L308.9 741.9 L309.6 742.7 L310.3 743.4 L311.0 744.1 L311.7 744.8 L312.5 745.6 L313.2 746.3 L313.9 747.0 L314.6 747.8 L315.3 748.5 L316.0 749.2 L316.8 749.9 L317.5 750.7 L318.2 751.4 L318.9 752.1 L319.7 752.8 L320.4 753.5 L321.1 754.3 L321.9 755.0 L322.6 755.7 L323.3 756.5 L324.1 757.2 L324.8 757.9 L325.5 758.5 L326.3 759.2 L327.0 760.0 L327.8 760.7 L328.5 761.4 L329.2 762.0 L330.0 762.7 L330.7 763.4 L331.5 764.1 L332.2 764.7 L333.0 765.4 L333.7 766.1 L334.5 766.8 L335.2 767.5 L336.0 768.2 L336.7 769.0 L337.5 769.7 L338.3 770.3 L339.0 770.9 L339.8 771.5 L340.5 772.2 L341.3 772.9 L342.1 773.6 L342.8 774.3 L343.6 775.0 L344.4 775.7 L345.1 776.3 L345.9 777.0 L346.7 777.6 L347.5 778.3 L348.2 778.9 L349.0 779.6 L349.8 780.3 L350.6 780.9 L351.3 781.6 L352.1 782.2 L352.9 782.9 L353.7 783.5 L354.5 784.2 L355.3 784.8 L356.1 785.4 L356.8 786.0 L357.6 786.6 L358.4 787.2 L359.2 787.9 L360.0 788.5 L360.8 789.1 L361.6 789.6 L362.4 790.1 L363.2 790.7 L364.0 791.4 L364.8 792.0 L365.6 792.7 L366.4 793.4 L367.2 794.1 L368.0 794.7 L368.8 795.3 L369.6 795.9 L370.4 796.5 L371.2 797.0 L372.1 797.5 L372.9 798.0 L373.7 798.6 L374.5 799.2 L375.3 799.8 L376.1 800.5 L377.0 801.3 L377.8 802.1 L378.6 803.1 L379.4 803.9 L380.2 804.4 L381.1 804.6 L381.9 804.8 L382.7 805.1 L383.6 805.7 L384.4 806.2 L385.2 806.6 L386.1 807.0 L386.9 807.4 L387.7 808.0 L388.6 808.9 L389.4 810.2 L390.2 811.2 L391.1 811.4 L391.9 811.1 L392.8 810.8 L393.6 810.6 L394.5 811.2 L395.3 812.4 L396.1 813.4 L397.0 814.1 L397.8 814.7 L398.7 815.2 L399.6 815.7 L400.4 816.2 L401.3 816.7 L402.1 817.1 L403.0 817.6 L403.8 818.0 L404.7 818.4 L405.6 818.8 L406.4 819.3 L407.3 819.9 L408.2 820.4 L409.0 820.8 L409.9 821.2 L410.8 821.6 L411.6 822.1 L412.5 822.7 L413.4 823.3 L414.2 823.9 L415.1 824.8 L416.0 826.2 L416.9 827.8 L417.8 828.1 L418.6 827.2 L419.5 826.5 L420.4 826.3 L421.3 826.4 L422.2 826.6 L423.1 827.0 L424.0 827.5 L424.8 827.9 L425.7 828.2 L426.6 828.6 L427.5 829.1 L428.4 829.5 L429.3 829.9 L430.2 830.1 L431.1 830.3 L432.0 830.7 L432.9 831.1 L433.8 831.5 L434.7 831.8 L435.6 832.0 L436.5 832.2 L437.4 832.5 L438.3 832.8 L439.2 833.1 L440.2 833.4 L441.1 833.6 L442.0 833.8 L442.9 834.1 L443.8 834.4 L444.7 834.8 L445.6 835.1 L446.6 835.3 L447.5 835.5 L448.4 835.7 L449.3 835.9 L450.3 836.1 L451.2 836.2 L452.1 836.3 L453.0 836.4 L454.0 836.6 L454.9 836.8 L455.8 837.0 L456.8 837.2 L457.7 837.3 L458.6 837.5 L459.6 837.7 L460.5 837.9 L461.5 838.0 L462.4 838.0 L463.3 838.1 L464.3 838.1 L465.2 838.2 L466.2 838.3 L467.1 838.5 L468.1 838.6 L469.0 838.7 L470.0 838.7 L470.9 838.8 L471.9 838.8 L472.8 838.8 L473.8 838.9 L474.7 839.0 L475.7 839.1 L476.6 839.1 L477.6 839.0 L478.6 838.8 L479.5 838.6 L480.5 838.6 L481.4 838.6 L482.4 838.5 L483.4 838.5 L484.3 838.5 L485.3 838.5 L486.2 838.5 L487.2 838.5 L488.2 838.5 L489.1 838.4 L490.1 838.2 L491.1 838.0 L492.0 837.9 L493.0 837.9 L494.0 837.8 L494.9 837.7 L495.9 837.6 L496.9 837.5 L497.9 837.2 L498.8 837.0 L499.8 836.8 L500.8 836.6 L501.7 836.5 L502.7 836.5 L503.7 836.4 L504.7 836.2 L505.6 836.0 L506.6 835.8 L507.6 835.6 L508.5 835.5 L509.5 835.2 L510.5 834.9 L511.5 834.7 L512.4 834.6 L513.4 834.5 L514.4 834.3 L515.4 834.0 L516.3 833.8 L517.3 833.5 L518.3 833.3 L519.2 833.1 L520.2 832.9 L521.2 832.7 L522.2 832.6 L523.1 832.3 L524.1 832.0 L525.1 831.8 L526.0 831.5 L527.0 831.1 L528.0 830.8 L528.9 830.5 L529.9 830.2 L530.9 829.9 L531.8 829.5 L532.8 829.2 L533.8 828.9 L534.8 828.6 L535.7 828.3 L536.7 828.0 L537.6 827.8 L538.6 827.6 L539.6 827.3 L540.5 827.1 L541.5 826.8 L542.5 826.5 L543.4 826.0 L544.4 825.6 L545.3 825.2 L546.3 824.8 L547.3 824.4 L548.2 824.2 L549.2 823.9 L550.1 823.6 L551.1 823.3 L552.0 823.0 L553.0 822.7 L553.9 822.3 L554.9 821.9 L555.8 821.4 L556.8 821.0 L557.7 820.6 L558.7 820.2 L559.6 819.8 L560.6 819.4 L561.5 819.1 L562.4 818.8 L563.4 818.5 L564.3 818.0 L565.3 817.6 L566.2 817.2 L567.1 816.8 L568.1 816.3 L569.0 815.8 L569.9 815.3 L570.9 814.8 L571.8 814.5 L572.7 814.2 L573.6 813.9 L574.6 813.5 L575.5 813.0 L576.4 812.6 L577.3 812.3 L578.2 812.0 L579.2 811.6 L580.1 811.1 L581.0 810.6 L581.9 810.1 L582.8 809.6 L583.7 809.3 L584.6 808.8 L585.5 808.3 L586.4 807.8 L587.3 807.3 L588.2 806.9 L589.1 806.5 L590.0 806.0 L590.9 805.5 L591.8 805.1 L592.7 804.7 L593.6 804.2 L594.5 803.9 L595.4 803.5 L596.3 803.0 L597.2 802.6 L598.1 802.1 L599.0 801.6 L599.8 801.1 L600.7 800.5 L601.6 800.0 L602.5 799.7 L603.4 799.4 L604.3 799.1 L605.1 798.7 L606.0 798.2 L606.9 797.8 L607.8 797.3 L608.6 796.9 L609.5 796.4 L610.4 795.9 L611.3 795.4 L612.1 795.0 L613.0 794.6 L613.9 794.1 L614.7 793.6 L615.6 793.1 L616.5 792.6 L617.3 791.9 L618.2 791.3 L619.0 790.8 L619.9 790.4 L620.8 789.9 L621.6 789.6 L622.5 789.3 L623.3 788.8 L624.2 788.3 L625.1 787.8 L625.9 787.2 L626.8 786.7 L627.6 786.2 L628.5 785.7 L629.3 785.1 L630.2 784.6 L631.0 784.0 L631.9 783.5 L632.7 783.1 L633.6 782.7 L634.4 782.3 L635.3 781.8 L636.1 781.3 L637.0 780.9 L637.8 780.4 L638.6 780.0 L639.5 779.5 L640.3 779.0 L641.2 778.5 L642.0 777.9 L642.9 777.3 L643.7 776.8 L644.5 776.4 L645.4 776.1 L646.2 775.6 L647.0 775.0 L647.9 774.3 L648.7 773.6 L649.6 773.0 L650.4 772.5 L651.2 772.1 L652.1 771.7 L652.9 771.1 L653.7 770.7 L654.6 770.3 L655.4 769.9 L656.2 769.6 L657.0 769.0 L657.9 768.3 L658.7 767.6 L659.5 767.0 L660.4 766.5 L661.2 766.1 L662.0 765.7 L662.8 765.3 L663.7 764.8 L664.5 764.3 L665.3 763.8 L666.2 763.3 L667.0 762.8 L667.8 762.2 L668.6 761.6 L669.4 761.1 L670.3 760.6 L671.1 760.0 L671.9 759.5 L672.7 759.0 L673.6 758.5 L674.4 758.0 L675.2 757.4 L676.0 756.8 L676.8 756.3 L677.7 755.9 L678.5 755.3 L679.3 754.7 L680.1 754.2 L681.0 753.8 L681.8 753.3 L682.6 752.8 L683.4 752.3 L684.2 751.9 L685.0 751.3 L685.9 750.7 L686.7 750.2 L687.5 749.7 L688.3 749.2 L689.1 748.6 L690.0 748.0 L690.8 747.5 L691.6 747.0 L692.4 746.4 L693.2 745.9 L694.0 745.4 L694.9 744.9 L695.7 744.4 L696.5 743.7 L697.3 743.1 L698.1 742.6 L698.9 742.1 L699.7 741.7 L700.6 741.3 L701.4 740.8 L702.2 740.2 L703.0 739.6 L703.8 739.1 L704.6 738.6 L705.5 738.1 L706.3 737.4 L707.1 736.7 L707.9 736.0 L708.7 735.4 L709.5 734.9 L710.4 734.4 L711.2 734.0 L712.0 733.5 L712.8 733.0 L713.6 732.4 L714.4 732.0 L715.2 731.5 L716.1 731.0 L716.9 730.5 L717.7 729.8 L718.5 729.2 L719.3 728.6 L720.1 728.2 L721.0 727.7 L721.8 727.0 L722.6 726.3 L723.4 725.7 L724.2 725.1 L725.1 724.7 L725.9 724.2 L726.7 723.7 L727.5 723.2 L728.3 722.6 L729.1 722.1 L730.0 721.6 L730.8 721.2 L731.6 720.7 L732.4 720.2 L733.2 719.8 L734.1 719.3 L734.9 718.7 L735.7 718.2 L736.5 717.5 L737.4 716.8 L738.2 716.2 L739.0 715.6 L739.8 715.0 L740.6 714.5 L741.5 714.0 L742.3 713.5 L743.1 713.0 L743.9 712.5 L744.8 712.0 L745.6 711.4 L746.4 710.8 L747.2 710.2 L748.1 709.7 L748.9 709.1 L749.7 708.5 L750.6 707.9 L751.4 707.3 L752.2 706.8 L753.0 706.3 L753.9 705.9 L754.7 705.4 L755.5 704.9 L756.4 704.5 L757.2 704.0 L758.0 703.4 L758.9 702.7 L759.7 702.1 L760.5 701.5 L761.4 701.0 L762.2 700.5 L763.0 699.9 L763.9 699.3 L764.7 698.8 L765.5 698.2 L766.4 697.7 L767.2 697.1 L768.1 696.5 L768.9 695.9 L769.7 695.3 L770.6 694.8 L771.4 694.3 L772.3 693.8 L773.1 693.3 L774.0 692.7 L774.8 692.2 L775.7 691.6 L776.5 690.9 L777.3 690.3 L778.2 689.7 L779.0 689.2 L779.9 688.7 L780.7 688.1 L781.6 687.6 L782.4 687.2 L783.3 686.7 L784.2 686.1 L785.0 685.5 L785.9 684.9 L786.7 684.3 L787.6 683.7 L788.4 683.1 L789.3 682.6 L790.1 682.2 L791.0 681.8 L791.9 681.3 L792.7 680.8 L793.6 680.3 L794.5 679.8 L795.3 679.2 L796.2 678.6 L797.1 678.0 L797.9 677.5 L798.8 676.9 L799.7 676.3 L800.5 675.7 L801.4 675.2 L802.3 674.7 L803.1 674.1 L804.0 673.6 L804.9 673.1 L805.8 672.5 L806.6 671.9 L807.5 671.4 L808.4 670.8 L809.3 670.3 L810.2 669.8 L811.0 669.2 L811.9 668.6 L812.8 668.1 L813.7 667.7 L814.6 667.2 L815.5 666.7 L816.4 666.2 L817.2 665.5 L818.1 665.0 L819.0 664.5 L819.9 664.0 L820.8 663.4 L821.7 662.8 L822.6 662.2 L823.5 661.7 L824.4 661.2 L825.3 660.7 L826.2 660.3 L827.1 659.7 L828.0 659.1 L828.9 658.5 L829.8 657.9 L830.7 657.3 L831.6 656.8 L832.6 656.2"/>
<path stroke="#0000ff" stroke-width="4.8" d="M132.3 419.9 L133.9 419.9 L135.4 419.9 L137.0 419.9 L138.5 419.9 L139.9 419.9 L141.4 419.9 L142.8 419.9 L144.2 419.9 L145.5 419.9 L146.9 419.9 L148.2 419.9 L149.4 419.9 L150.7 419.9 L151.9 419.9 L153.1 419.9 L154.2 419.9 L155.4 419.9 L156.5 419.9 L157.5 419.9 L158.6 419.9 L159.6 419.9 L160.6 419.9 L161.5 419.9 L162.5 419.9 L163.4 419.9 L164.2 419.9 L165.1 419.9 L165.9 419.9 L166.7 419.9 L167.4 419.9 L168.2 419.9 L168.9 419.9 L169.5 419.9 L170.2 419.9 L170.8 419.9 L171.4 419.9 L171.9 419.9 L172.4 419.9 L172.9 419.9 L173.4 419.9 L173.8 419.9 L174.2 420.0 L174.6 420.4 L175.0 421.2 L175.4 422.2 L175.7 423.4 L176.0 424.7 L176.2 426.0 L176.4 427.1 L176.5 428.2 L176.6 429.2 L176.7 430.2 L176.8 431.1 L176.9 432.1 L176.9 433.1 L177.0 434.1 L177.1 435.1 L177.2 436.1 L177.2 437.1 L177.3 438.1 L177.3 439.1 L177.4 440.1 L177.4 441.1 L177.5 442.1 L177.5 443.1 L177.6 444.1 L177.6 445.1 L177.7 446.1 L177.7 447.1 L177.8 448.1 L177.8 449.1 L177.8 450.1 L177.9 451.2 L177.9 452.2 L177.9 453.2 L178.0 454.2 L178.0 455.2 L178.0 456.2 L178.1 457.2 L178.1 458.2 L178.1 459.3 L178.1 460.3 L178.2 461.3 L178.2 462.3 L178.2 463.3 L178.3 464.3 L178.3 465.4 L178.3 466.4 L178.3 467.4 L178.4 468.4 L178.4 469.4 L178.4 470.4 L178.5 471.4 L178.5 472.5 L178.5 473.5 L178.6 474.5 L178.6 475.5 L178.6 476.5 L178.7 477.5 L178.7 478.5 L178.8 479.5 L178.8 480.5 L178.9 481.5 L178.9 482.5 L179.0 483.6 L179.0 484.6 L179.1 485.6 L179.1 486.6 L179.1 487.6 L179.2 488.6 L179.2 489.6 L179.3 490.6 L179.3 491.6 L179.4 492.6 L179.4 493.6 L179.5 494.6 L179.5 495.6 L179.6 496.6 L179.6 497.6 L179.7 498.7 L179.7 499.7 L179.8 500.7 L179.8 501.7 L179.9 502.7 L179.9 503.7 L180.0 504.7 L180.0 505.7 L180.1 506.7 L180.1 507.7 L180.2 508.7 L180.2 509.7 L180.3 510.7 L180.4 511.7 L180.4 512.7 L180.5 513.7 L180.6 514.7 L180.6 515.7 L180.7 516.8 L180.8 517.8 L180.9 518.8 L180.9 519.8 L181.0 520.8 L181.1 521.8 L181.2 522.8 L181.2 523.8 L181.3 524.8 L181.4 525.8 L181.5 526.8 L181.6 527.8 L181.6 528.8 L181.7 529.8 L181.8 530.8 L181.9 531.8 L182.0 532.8 L182.1 533.8 L182.1 534.8 L182.2 535.8 L182.3 536.8 L182.4 537.8 L182.5 538.8 L182.6 539.8 L182.7 540.9 L182.8 541.9 L182.9 542.9 L183.0 543.9 L183.1 545.0 L183.2 546.0 L183.3 547.0 L183.4 548.0 L183.5 549.1 L183.6 550.1 L183.7 551.1 L183.9 552.1 L184.0 553.1 L184.1 554.1 L184.3 555.1 L184.4 556.1 L184.6 557.1 L184.7 558.1 L184.9 559.1 L185.1 560.1 L185.2 561.1 L185.4 562.1 L185.6 563.1 L185.8 564.1 L186.0 565.1 L186.2 566.1 L186.4 567.1 L186.6 568.0 L186.8 569.0 L187.0 570.0 L187.2 571.0 L187.4 571.9 L187.6 572.9 L187.9 573.9 L188.1 574.8 L188.4 575.8 L188.6 576.8 L188.8 577.7 L189.1 578.7 L189.4 579.6 L189.6 580.6 L189.9 581.6 L190.2 582.5 L190.4 583.4 L190.7 584.4 L191.0 585.3 L191.3 586.3 L191.6 587.2 L191.9 588.2 L192.2 589.1 L192.5 590.0 L192.8 591.0 L193.1 591.9 L193.5 592.8 L193.8 593.7 L194.1 594.7 L194.5 595.6 L194.8 596.5 L195.1 597.4 L195.5 598.3 L195.9 599.2 L196.2 600.2 L196.6 601.1 L196.9 602.0 L197.3 602.9 L197.7 603.8 L198.1 604.7 L198.5 605.6 L198.8 606.5 L199.2 607.4 L199.6 608.3 L200.0 609.1 L200.5 610.0 L200.9 610.9 L201.3 611.8 L201.7 612.7 L202.1 613.6 L202.6 614.4 L203.0 615.3 L203.4 616.2 L203.9 617.1 L204.3 617.9 L204.8 618.8 L205.2 619.7 L205.7 620.5 L206.1 621.4 L206.6 622.3 L207.1 623.1 L207.6 624.0 L208.0 624.8 L208.5 625.7 L209.0 626.5 L209.5 627.4 L210.0 628.2 L210.5 629.1 L211.0 629.9 L211.5 630.8 L212.0 631.6 L212.5 632.5 L213.0 633.3 L213.5 634.1 L214.1 635.0 L214.6 635.8 L215.1 636.7 L215.6 637.5 L216.2 638.3 L216.7 639.1 L217.2 640.0 L217.8 640.8 L218.3 641.6 L218.9 642.5 L219.4 643.3 L220.0 644.1 L220.5 644.9 L221.1 645.7 L221.6 646.6 L222.2 647.4 L222.8 648.2 L223.3 649.0 L223.9 649.8 L224.5 650.6 L225.1 651.4 L225.6 652.2 L226.2 653.1 L226.8 653.9 L227.4 654.7 L228.0 655.5 L228.6 656.3 L229.2 657.1 L229.8 657.9 L230.4 658.7 L231.0 659.5 L231.6 660.3 L232.2 661.1 L232.8 661.9 L233.4 662.7 L234.0 663.5 L234.6 664.3 L235.2 665.1 L235.8 665.9 L236.4 666.7 L237.0 667.5 L237.6 668.2 L238.3 669.0 L238.9 669.8 L239.5 670.6 L240.1 671.4 L240.8 672.2 L241.4 673.0 L242.0 673.8 L242.6 674.6 L243.3 675.4 L243.9 676.1 L244.5 676.9 L245.1 677.7 L245.8 678.5 L246.4 679.3 L247.0 680.1 L247.7 680.8 L248.3 681.6 L249.0 682.4 L249.6 683.2 L250.2 684.0 L250.9 684.8 L251.5 685.5 L252.1 686.3 L252.8 687.1 L253.4 687.9 L254.1 688.7 L254.7 689.5 L255.4 690.2 L256.0 691.0 L256.6 691.8 L257.3 692.6 L257.9 693.4 L258.6 694.1 L259.2 694.9 L259.8 695.7 L260.5 696.5 L261.1 697.3 L261.8 698.0 L262.4 698.8 L263.1 699.6 L263.7 700.4 L264.3 701.2 L265.0 701.9 L265.6 702.7 L266.3 703.5 L266.9 704.3 L267.5 705.1 L268.2 705.9 L268.8 706.6 L269.5 707.4 L270.1 708.2 L270.7 709.0 L271.4 709.8 L272.0 710.6 L272.6 711.3 L273.3 712.1 L273.9 712.9 L274.5 713.7 L275.2 714.5 L275.8 715.3 L276.4 716.1 L277.0 716.8 L277.7 717.6 L278.3 718.4 L278.9 719.2 L279.6 720.0 L280.2 720.8 L280.8 721.6 L281.4 722.4 L282.1 723.2 L282.7 723.9 L283.3 724.7 L283.9 725.5 L284.5 726.3 L285.2 727.1 L285.8 727.9 L286.4 728.7 L287.0 729.5 L287.6 730.3 L288.3 731.1 L288.9 731.9 L289.5 732.6 L290.1 733.4 L290.7 734.2 L291.3 735.0 L292.0 735.8 L292.6 736.6 L293.2 737.4 L293.8 738.2 L294.4 739.0 L295.0 739.8 L295.7 740.6 L296.3 741.4 L296.9 742.2 L297.5 742.9 L298.1 743.7 L298.7 744.5 L299.3 745.3 L300.0 746.1 L300.6 746.9 L301.2 747.7 L301.8 748.5 L302.4 749.2 L303.0 750.0 L303.6 750.8 L304.3 751.6 L304.9 752.4 L305.5 753.2 L306.1 754.0 L306.7 754.8 L307.3 755.6 L307.9 756.4 L308.6 757.1 L309.2 757.9 L309.8 758.7 L310.4 759.5 L311.0 760.3 L311.6 761.1 L312.2 761.9 L312.9 762.7 L313.5 763.5 L314.1 764.3 L314.7 765.1 L315.3 765.9 L316.0 766.6 L316.6 767.4 L317.2 768.2 L317.8 769.0 L318.4 769.8 L319.1 770.6 L319.7 771.4 L320.3 772.2 L320.9 773.0 L321.5 773.7 L322.2 774.5 L322.8 775.2 L323.4 776.0 L324.0 776.8 L324.7 777.6 L325.3 778.4 L325.9 779.1 L326.5 779.9 L327.2 780.6 L327.8 781.3 L328.4 782.1 L329.1 782.9 L329.7 783.8 L330.3 784.6 L330.9 785.4 L331.6 786.2 L332.2 787.0 L332.9 787.7 L333.5 788.5 L334.1 789.2 L334.8 790.0 L335.4 790.7 L336.0 791.4 L336.7 792.2 L337.3 793.0 L338.0 793.8 L338.6 794.6 L339.2 795.4 L339.9 796.1 L340.5 796.8 L341.2 797.4 L341.8 798.2 L342.5 799.0 L343.1 799.9 L343.8 800.7 L344.4 801.5 L345.1 802.2 L345.8 802.8 L346.4 803.5 L347.1 804.2 L347.7 805.0 L348.4 805.8 L349.0 806.6 L349.7 807.4 L350.4 808.2 L351.0 809.0 L351.7 809.7 L352.4 810.5 L353.0 811.3 L353.7 812.0 L354.4 812.8 L355.1 813.6 L355.7 814.4 L356.4 815.1 L357.1 815.8 L357.8 816.6 L358.4 817.3 L359.1 818.0 L359.8 818.7 L360.5 819.4 L361.2 820.1 L361.9 820.9 L362.6 821.7 L363.3 822.4 L364.0 823.1 L364.6 823.8 L365.3 824.5 L366.0 825.3 L366.7 826.1 L367.4 827.0 L368.1 827.9 L368.9 828.7 L369.6 829.4 L370.3 830.1 L371.0 830.7 L371.7 831.4 L372.4 832.0 L373.1 832.5 L373.8 833.0 L374.6 833.6 L375.3 834.3 L376.0 835.1 L376.7 835.8 L377.5 836.4 L378.2 837.1 L378.9 838.0 L379.7 838.8 L380.4 839.5 L381.1 840.1 L381.9 840.6 L382.6 841.3 L383.3 842.1 L384.1 842.8 L384.8 843.5 L385.6 844.2 L386.3 844.7 L387.1 845.4 L387.8 846.1 L388.6 847.2 L389.4 848.4 L390.1 849.5 L390.9 849.8 L391.6 849.8 L392.4 849.7 L393.2 849.7 L393.9 849.9 L394.7 850.9 L395.5 852.1 L396.3 853.2 L397.0 853.9 L397.8 854.5 L398.6 855.1 L399.4 855.5 L400.2 856.1 L401.0 856.8 L401.8 857.4 L402.6 858.0 L403.4 858.6 L404.2 859.2 L405.0 859.8 L405.8 860.5 L406.6 861.1 L407.4 861.6 L408.2 862.1 L409.0 862.6 L409.8 863.1 L410.6 863.6 L411.4 864.2 L412.3 864.8 L413.1 865.4 L413.9 866.0 L414.8 866.7 L415.6 867.9 L416.4 869.6 L417.3 870.8 L418.1 870.7 L418.9 870.1 L419.8 870.0 L420.6 870.2 L421.5 870.5 L422.3 870.8 L423.2 871.1 L424.0 871.6 L424.9 872.0 L425.7 872.5 L426.6 872.9 L427.5 873.4 L428.3 873.9 L429.2 874.4 L430.1 874.9 L431.0 875.3 L431.8 875.7 L432.7 875.9 L433.6 876.2 L434.5 876.6 L435.4 877.1 L436.3 877.5 L437.2 877.9 L438.1 878.2 L439.0 878.5 L439.9 878.8 L440.8 879.0 L441.7 879.2 L442.6 879.6 L443.5 879.9 L444.4 880.3 L445.3 880.7 L446.3 881.0 L447.2 881.2 L448.1 881.5 L449.0 881.8 L450.0 882.0 L450.9 882.2 L451.8 882.4 L452.8 882.6 L453.7 882.9 L454.7 883.2 L455.6 883.5 L456.6 883.6 L457.5 883.8 L458.5 884.0 L459.4 884.2 L460.4 884.4 L461.3 884.6 L462.3 884.9 L463.3 885.1 L464.2 885.3 L465.2 885.4 L466.2 885.5 L467.1 885.7 L468.1 885.7 L469.1 885.8 L470.0 885.9 L471.0 886.0 L472.0 886.1 L473.0 886.1 L474.0 886.2 L474.9 886.2 L475.9 886.3 L476.9 886.4 L477.9 886.5 L478.9 886.6 L479.9 886.8 L480.9 886.9 L481.9 887.0 L482.9 887.1 L483.8 887.1 L484.8 887.1 L485.8 887.0 L486.8 886.9 L487.8 886.9 L488.8 886.9 L489.8 887.0 L490.8 887.0 L491.8 887.0 L492.8 887.1 L493.8 887.2 L494.8 887.2 L495.8 887.1 L496.9 887.0 L497.9 886.9 L498.9 886.7 L499.9 886.6 L500.9 886.6 L501.9 886.5 L502.9 886.4 L503.9 886.4 L504.9 886.4 L505.9 886.4 L506.9 886.2 L507.9 886.1 L508.9 886.0 L509.9 885.9 L510.9 885.7 L511.9 885.4 L513.0 885.2 L514.0 885.0 L515.0 884.9 L516.0 884.9 L517.0 884.8 L518.0 884.7 L519.0 884.5 L520.0 884.3 L521.0 884.3 L522.0 884.3 L523.0 884.1 L524.0 883.9 L525.0 883.5 L526.0 883.3 L527.0 883.1 L528.0 882.9 L529.0 882.7 L530.0 882.4 L531.0 882.1 L532.0 881.9 L533.0 881.7 L534.0 881.5 L535.0 881.2 L536.0 880.9 L537.0 880.7 L538.0 880.5 L538.9 880.2 L539.9 880.0 L540.9 879.9 L541.9 879.6 L542.9 879.3 L543.9 879.1 L544.8 878.8 L545.8 878.4 L546.8 878.0 L547.8 877.7 L548.7 877.5 L549.7 877.4 L550.7 877.3 L551.7 877.0 L552.6 876.7 L553.6 876.4 L554.6 876.1 L555.5 875.8 L556.5 875.5 L557.4 875.2 L558.4 874.8 L559.3 874.5 L560.3 874.2 L561.2 873.9 L562.2 873.6 L563.1 873.2 L564.1 872.8 L565.0 872.3 L565.9 871.8 L566.9 871.4 L567.8 871.0 L568.8 870.8 L569.7 870.5 L570.6 870.3 L571.5 870.0 L572.5 869.6 L573.4 869.2 L574.3 868.7 L575.2 868.3 L576.2 867.9 L577.1 867.5 L578.0 867.0 L578.9 866.5 L579.8 866.1 L580.7 865.7 L581.6 865.4 L582.6 865.0 L583.5 864.7 L584.4 864.3 L585.3 863.9 L586.2 863.5 L587.1 863.2 L588.0 862.8 L588.9 862.4 L589.8 862.0 L590.7 861.5 L591.6 861.0 L592.4 860.4 L593.3 860.0 L594.2 859.7 L595.1 859.4 L596.0 859.0 L596.9 858.5 L597.8 857.8 L598.7 857.2 L599.5 856.7 L600.4 856.2 L601.3 855.9 L602.2 855.4 L603.1 855.0 L603.9 854.5 L604.8 854.2 L605.7 853.9 L606.6 853.6 L607.4 853.1 L608.3 852.4 L609.2 851.8 L610.0 851.2 L610.9 850.8 L611.8 850.3 L612.7 850.0 L613.5 849.6 L614.4 849.2 L615.3 848.8 L616.1 848.3 L617.0 847.8 L617.8 847.3 L618.7 846.7 L619.6 846.2 L620.4 845.7 L621.3 845.2 L622.1 844.7 L623.0 844.2 L623.9 843.7 L624.7 843.3 L625.6 842.7 L626.4 842.2 L627.3 841.6 L628.1 841.2 L629.0 840.7 L629.8 840.2 L630.7 839.6 L631.5 839.1 L632.4 838.7 L633.3 838.3 L634.1 837.8 L635.0 837.3 L635.8 836.9 L636.7 836.4 L637.5 835.8 L638.4 835.3 L639.2 834.8 L640.0 834.3 L640.9 833.8 L641.7 833.2 L642.6 832.7 L643.4 832.2 L644.3 831.6 L645.1 831.1 L646.0 830.7 L646.8 830.2 L647.7 829.7 L648.5 829.0 L649.3 828.4 L650.2 827.9 L651.0 827.5 L651.9 827.1 L652.7 826.7 L653.6 826.2 L654.4 825.6 L655.2 825.0 L656.1 824.5 L656.9 824.0 L657.8 823.5 L658.6 822.9 L659.4 822.2 L660.3 821.5 L661.1 820.9 L661.9 820.4 L662.8 819.9 L663.6 819.5 L664.5 819.0 L665.3 818.5 L666.1 818.0 L667.0 817.5 L667.8 817.0 L668.6 816.6 L669.5 816.0 L670.3 815.4 L671.1 814.8 L672.0 814.2 L672.8 813.8 L673.6 813.3 L674.5 812.7 L675.3 811.9 L676.1 811.3 L677.0 810.7 L677.8 810.3 L678.6 809.9 L679.5 809.4 L680.3 808.8 L681.1 808.2 L682.0 807.7 L682.8 807.3 L683.6 806.8 L684.5 806.4 L685.3 805.9 L686.1 805.4 L686.9 804.9 L687.8 804.4 L688.6 803.8 L689.4 803.2 L690.3 802.5 L691.1 801.9 L691.9 801.3 L692.7 800.7 L693.6 800.2 L694.4 799.7 L695.2 799.2 L696.1 798.7 L696.9 798.2 L697.7 797.6 L698.5 797.0 L699.4 796.4 L700.2 795.8 L701.0 795.3 L701.9 794.8 L702.7 794.2 L703.5 793.6 L704.3 793.0 L705.2 792.4 L706.0 792.0 L706.8 791.5 L707.6 791.0 L708.5 790.6 L709.3 790.1 L710.1 789.6 L710.9 789.0 L711.8 788.4 L712.6 787.7 L713.4 787.2 L714.2 786.6 L715.1 786.1 L715.9 785.5 L716.7 785.0 L717.6 784.4 L718.4 783.8 L719.2 783.3 L720.0 782.7 L720.9 782.1 L721.7 781.5 L722.5 780.9 L723.3 780.4 L724.2 779.9 L725.0 779.4 L725.8 778.9 L726.6 778.3 L727.5 777.7 L728.3 777.1 L729.1 776.5 L729.9 775.8 L730.8 775.2 L731.6 774.8 L732.4 774.2 L733.2 773.6 L734.1 773.1 L734.9 772.7 L735.7 772.2 L736.5 771.6 L737.4 771.0 L738.2 770.4 L739.0 769.7 L739.9 769.1 L740.7 768.6 L741.5 768.1 L742.3 767.6 L743.2 767.2 L744.0 766.7 L744.8 766.3 L745.6 765.7 L746.5 765.2 L747.3 764.6 L748.1 764.0 L749.0 763.4 L749.8 762.9 L750.6 762.3 L751.4 761.6 L752.3 761.0 L753.1 760.5 L753.9 760.0 L754.8 759.5 L755.6 758.9 L756.4 758.4 L757.3 757.8 L758.1 757.2 L758.9 756.7 L759.7 756.1 L760.6 755.6 L761.4 755.0 L762.2 754.5 L763.1 753.9 L763.9 753.4 L764.7 752.9 L765.6 752.5 L766.4 752.0 L767.2 751.4 L768.1 750.8 L768.9 750.2 L769.7 749.7 L770.6 749.2 L771.4 748.6 L772.2 748.0 L773.1 747.4 L773.9 746.9 L774.7 746.4 L775.6 745.9 L776.4 745.4 L777.2 744.9 L778.1 744.3 L778.9 743.6 L779.8 743.0 L780.6 742.5 L781.4 741.9 L782.3 741.3 L783.1 740.8 L783.9 740.3 L784.8 739.9 L785.6 739.4 L786.5 738.8 L787.3 738.1 L788.1 737.4 L789.0 736.9 L789.8 736.5 L790.7 736.1 L791.5 735.6 L792.4 735.0 L793.2 734.4 L794.0 733.8 L794.9 733.3 L795.7 732.9 L796.6 732.4 L797.4 731.9 L798.3 731.3 L799.1 730.7 L800.0 730.2 L800.8 729.6 L801.6 729.1 L802.5 728.5 L803.3 728.0 L804.2 727.4 L805.0 727.0 L805.9 726.5 L806.7 726.1 L807.6 725.6 L808.4 725.0 L809.3 724.5 L810.1 724.0 L811.0 723.5 L811.8 723.1 L812.7 722.6 L813.6 722.0 L814.4 721.4 L815.3 720.9 L816.1 720.5 L817.0 720.1 L817.8 719.5 L818.7 719.0 L819.5 718.5 L820.4 718.0 L821.3 717.5 L822.1 716.9 L823.0 716.4 L823.8 715.9 L824.7 715.5 L825.6 715.0 L826.4 714.4 L827.3 713.8 L828.1 713.2 L829.0 712.7 L829.9 712.1 L830.7 711.6 L831.6 711.1 L832.5 710.6"/>
<path stroke="#008080" stroke-width="4.8" d="M132.3 419.9 L133.8 419.9 L135.2 419.9 L136.6 419.9 L138.0 419.9 L139.4 419.9 L140.8 419.9 L142.1 419.9 L143.4 419.9 L144.8 419.9 L146.1 419.9 L147.4 419.9 L148.6 419.9 L149.9 419.9 L151.1 419.9 L152.4 419.9 L153.6 419.9 L154.8 419.9 L156.0 419.9 L157.1 419.9 L158.3 419.9 L159.4 419.9 L160.6 419.9 L161.7 419.9 L162.8 419.9 L163.8 419.9 L164.9 419.9 L166.0 419.9 L167.0 419.9 L168.0 419.9 L169.1 419.9 L170.1 419.9 L171.0 419.9 L172.0 419.9 L173.0 419.9 L173.9 419.9 L174.9 419.9 L175.8 419.9 L176.7 419.9 L177.6 419.9 L178.5 419.9 L179.4 419.9 L180.2 419.9 L181.1 419.9 L181.9 419.9 L182.7 419.9 L183.6 419.9 L184.4 419.9 L185.2 419.9 L185.9 419.9 L186.7 419.9 L187.5 419.9 L188.2 419.9 L188.9 419.9 L189.7 419.9 L190.4 419.9 L191.1 419.9 L191.8 419.9 L192.5 419.9 L193.2 419.9 L193.8 419.9 L194.5 419.9 L195.1 419.9 L195.8 420.0 L196.5 420.5 L197.1 421.4 L197.7 422.6 L198.0 423.7 L198.0 424.6 L198.1 425.5 L198.1 426.4 L198.1 427.4 L198.1 428.3 L198.2 429.2 L198.2 430.2 L198.2 431.1 L198.2 432.1 L198.3 433.1 L198.3 434.0 L198.3 435.0 L198.3 436.0 L198.3 437.0 L198.4 438.0 L198.4 439.0 L198.4 440.0 L198.4 441.0 L198.4 442.0 L198.4 443.0 L198.5 444.0 L198.5 445.0 L198.5 446.1 L198.5 447.1 L198.5 448.1 L198.5 449.1 L198.5 450.2 L198.5 451.2 L198.5 452.2 L198.5 453.3 L198.6 454.3 L198.6 455.4 L198.6 456.4 L198.6 457.4 L198.6 458.5 L198.6 459.5 L198.6 460.6 L198.6 461.6 L198.6 462.6 L198.6 463.7 L198.6 464.7 L198.6 465.8 L198.6 466.8 L198.6 467.9 L198.6 468.9 L198.6 469.9 L198.6 471.0 L198.7 472.0 L198.7 473.0 L198.7 474.1 L198.7 475.1 L198.7 476.1 L198.7 477.1 L198.7 478.1 L198.7 479.2 L198.7 480.2 L198.7 481.2 L198.7 482.2 L198.7 483.2 L198.7 484.2 L198.7 485.2 L198.7 486.2 L198.7 487.2 L198.8 488.2 L198.8 489.2 L198.8 490.3 L198.8 491.3 L198.8 492.3 L198.8 493.3 L198.8 494.3 L198.8 495.3 L198.8 496.3 L198.8 497.3 L198.8 498.3 L198.8 499.3 L198.8 500.4 L198.8 501.4 L198.8 502.4 L198.8 503.4 L198.8 504.4 L198.8 505.4 L198.8 506.4 L198.8 507.4 L198.8 508.4 L198.8 509.4 L198.8 510.5 L198.8 511.5 L198.8 512.5 L198.8 513.5 L198.9 514.5 L198.9 515.5 L198.9 516.5 L198.9 517.5 L198.9 518.5 L198.9 519.5 L198.9 520.5 L198.9 521.6 L198.9 522.6 L198.9 523.6 L198.9 524.6 L198.9 525.6 L198.9 526.6 L198.9 527.6 L198.9 528.6 L198.9 529.6 L198.9 530.6 L198.9 531.6 L199.0 532.7 L199.0 533.7 L199.0 534.7 L199.0 535.7 L199.0 536.7 L199.0 537.7 L199.0 538.7 L199.0 539.7 L199.0 540.7 L199.0 541.7 L199.1 542.8 L199.1 543.8 L199.1 544.8 L199.1 545.8 L199.1 546.8 L199.2 547.8 L199.2 548.8 L199.2 549.9 L199.3 550.9 L199.3 551.9 L199.3 552.9 L199.4 553.9 L199.4 554.9 L199.5 555.9 L199.5 556.9 L199.6 557.9 L199.7 558.9 L199.7 560.0 L199.9 561.0 L200.0 562.0 L200.2 562.9 L200.4 563.9 L200.6 564.8 L200.9 565.8 L201.1 566.7 L201.4 567.6 L201.6 568.6 L201.9 569.5 L202.2 570.4 L202.4 571.4 L202.7 572.3 L203.0 573.3 L203.2 574.2 L203.5 575.1 L203.8 576.1 L204.1 577.0 L204.4 577.9 L204.7 578.9 L205.0 579.8 L205.3 580.7 L205.6 581.7 L205.9 582.6 L206.2 583.5 L206.5 584.4 L206.8 585.4 L207.2 586.3 L207.5 587.2 L207.8 588.2 L208.1 589.1 L208.5 590.0 L208.8 590.9 L209.2 591.9 L209.5 592.8 L209.8 593.7 L210.2 594.6 L210.6 595.6 L210.9 596.5 L211.3 597.4 L211.6 598.3 L212.0 599.3 L212.4 600.2 L212.7 601.1 L213.1 602.0 L213.5 603.0 L213.9 603.9 L214.2 604.8 L214.6 605.7 L215.0 606.6 L215.4 607.5 L215.8 608.5 L216.2 609.4 L216.6 610.3 L217.0 611.2 L217.4 612.1 L217.8 613.0 L218.2 614.0 L218.6 614.9 L219.0 615.8 L219.4 616.7 L219.8 617.6 L220.2 618.5 L220.7 619.4 L221.1 620.4 L221.5 621.3 L221.9 622.2 L222.4 623.1 L222.8 624.0 L223.2 624.9 L223.7 625.8 L224.1 626.7 L224.5 627.6 L225.0 628.5 L225.4 629.4 L225.9 630.3 L226.3 631.2 L226.8 632.2 L227.2 633.1 L227.7 634.0 L228.1 634.9 L228.6 635.8 L229.0 636.7 L229.5 637.6 L230.0 638.5 L230.4 639.4 L230.9 640.3 L231.4 641.2 L231.8 642.1 L232.3 643.0 L232.8 643.9 L233.2 644.8 L233.7 645.7 L234.2 646.6 L234.7 647.5 L235.1 648.3 L235.6 649.2 L236.1 650.1 L236.6 651.0 L237.1 651.9 L237.6 652.8 L238.0 653.7 L238.5 654.6 L239.0 655.5 L239.5 656.4 L240.0 657.3 L240.5 658.2 L241.0 659.0 L241.5 659.9 L242.0 660.8 L242.5 661.7 L243.0 662.6 L243.5 663.5 L244.0 664.4 L244.5 665.2 L245.0 666.1 L245.5 667.0 L246.0 667.9 L246.5 668.8 L247.0 669.7 L247.5 670.5 L248.0 671.4 L248.5 672.3 L249.0 673.2 L249.5 674.1 L250.0 674.9 L250.5 675.8 L251.0 676.7 L251.5 677.6 L252.0 678.4 L252.5 679.3 L253.1 680.2 L253.6 681.1 L254.1 681.9 L254.6 682.8 L255.1 683.7 L255.6 684.6 L256.1 685.4 L256.6 686.3 L257.1 687.2 L257.7 688.0 L258.2 688.9 L258.7 689.8 L259.2 690.6 L259.7 691.5 L260.2 692.4 L260.7 693.2 L261.2 694.1 L261.8 695.0 L262.3 695.8 L262.8 696.7 L263.3 697.6 L263.8 698.4 L264.3 699.3 L264.8 700.1 L265.3 701.0 L265.9 701.9 L266.4 702.7 L266.9 703.6 L267.4 704.4 L267.9 705.3 L268.4 706.1 L269.0 707.0 L269.5 707.9 L270.0 708.7 L270.5 709.6 L271.0 710.4 L271.5 711.3 L272.1 712.1 L272.6 713.0 L273.1 713.8 L273.6 714.7 L274.1 715.5 L274.7 716.4 L275.2 717.2 L275.7 718.1 L276.2 718.9 L276.7 719.8 L277.3 720.6 L277.8 721.5 L278.3 722.3 L278.8 723.1 L279.4 724.0 L279.9 724.8 L280.4 725.7 L280.9 726.5 L281.5 727.3 L282.0 728.2 L282.5 729.0 L283.1 729.9 L283.6 730.7 L284.1 731.5 L284.7 732.4 L285.2 733.2 L285.7 734.0 L286.3 734.9 L286.8 735.7 L287.3 736.5 L287.9 737.4 L288.4 738.2 L288.9 739.0 L289.5 739.9 L290.0 740.7 L290.6 741.5 L291.1 742.4 L291.7 743.2 L292.2 744.0 L292.7 744.9 L293.3 745.7 L293.8 746.5 L294.4 747.3 L294.9 748.1 L295.5 748.9 L296.0 749.8 L296.6 750.6 L297.1 751.4 L297.7 752.2 L298.2 753.1 L298.8 753.9 L299.4 754.7 L299.9 755.5 L300.5 756.3 L301.0 757.1 L301.6 758.0 L302.2 758.8 L302.7 759.6 L303.3 760.4 L303.9 761.2 L304.4 762.1 L305.0 762.8 L305.6 763.6 L306.1 764.4 L306.7 765.2 L307.3 766.0 L307.9 766.9 L308.4 767.7 L309.0 768.6 L309.6 769.4 L310.2 770.2 L310.8 771.0 L311.3 771.8 L311.9 772.5 L312.5 773.3 L313.1 774.0 L313.7 774.9 L314.3 775.7 L314.9 776.5 L315.5 777.3 L316.1 778.1 L316.7 778.8 L317.3 779.6 L317.9 780.4 L318.5 781.2 L319.1 782.1 L319.7 782.9 L320.3 783.7 L320.9 784.5 L321.5 785.3 L322.1 786.1 L322.7 786.9 L323.3 787.6 L323.9 788.4 L324.6 789.2 L325.2 789.9 L325.8 790.7 L326.4 791.5 L327.0 792.3 L327.7 793.1 L328.3 793.9 L328.9 794.7 L329.6 795.4 L330.2 796.2 L330.8 796.9 L331.5 797.7 L332.1 798.6 L332.7 799.4 L333.4 800.2 L334.0 801.0 L334.7 801.7 L335.3 802.4 L336.0 803.1 L336.6 803.8 L337.3 804.5 L337.9 805.3 L338.6 806.1 L339.2 806.9 L339.9 807.7 L340.6 808.6 L341.2 809.4 L341.9 810.1 L342.6 810.9 L343.2 811.6 L343.9 812.3 L344.6 813.0 L345.3 813.8 L345.9 814.6 L346.6 815.4 L347.3 816.1 L348.0 816.9 L348.7 817.6 L349.4 818.3 L350.1 819.1 L350.7 819.8 L351.4 820.5 L352.1 821.3 L352.8 822.0 L353.5 822.8 L354.2 823.6 L354.9 824.3 L355.6 825.1 L356.3 825.9 L357.0 826.7 L357.8 827.5 L358.5 828.2 L359.2 828.9 L359.9 829.6 L360.6 830.4 L361.3 831.2 L362.0 831.9 L362.8 832.6 L363.5 833.3 L364.2 834.0 L364.9 834.7 L365.7 835.4 L366.4 836.1 L367.1 836.7 L367.9 837.4 L368.6 838.2 L369.3 838.9 L370.1 839.5 L370.8 840.2 L371.5 840.9 L372.3 841.7 L373.0 842.5 L373.8 843.2 L374.5 843.9 L375.3 844.5 L376.0 845.2 L376.8 845.9 L377.5 846.6 L378.3 847.3 L379.1 848.0 L379.8 848.6 L380.6 849.2 L381.3 849.9 L382.1 850.7 L382.9 851.5 L383.6 852.1 L384.4 852.7 L385.2 853.4 L386.0 854.1 L386.7 854.8 L387.5 855.4 L388.3 856.2 L389.1 857.3 L389.8 858.5 L390.6 859.2 L391.4 859.1 L392.2 858.9 L393.0 858.8 L393.8 858.9 L394.6 859.7 L395.4 860.9 L396.1 861.9 L396.9 862.7 L397.7 863.4 L398.5 864.0 L399.3 864.7 L400.1 865.3 L400.9 865.9 L401.7 866.6 L402.5 867.2 L403.4 867.8 L404.2 868.4 L405.0 869.0 L405.8 869.6 L406.6 870.2 L407.4 871.0 L408.2 871.7 L409.0 872.4 L409.9 872.9 L410.7 873.3 L411.5 873.6 L412.3 874.1 L413.2 874.6 L414.0 875.2 L414.8 876.1 L415.6 877.4 L416.5 879.2 L417.3 880.4 L418.1 880.3 L419.0 879.7 L419.8 879.5 L420.6 879.8 L421.5 880.3 L422.3 880.8 L423.2 881.4 L424.0 881.9 L424.9 882.4 L425.7 882.9 L426.6 883.4 L427.4 884.0 L428.3 884.6 L429.1 885.2 L430.0 885.6 L430.8 886.1 L431.7 886.5 L432.5 887.0 L433.4 887.5 L434.3 887.9 L435.1 888.3 L436.0 888.8 L436.8 889.3 L437.7 889.8 L438.6 890.3 L439.4 890.8 L440.3 891.3 L441.2 891.7 L442.1 892.1 L442.9 892.5 L443.8 893.0 L444.7 893.5 L445.6 893.9 L446.4 894.3 L447.3 894.6 L448.2 894.9 L449.1 895.4 L450.0 895.9 L450.9 896.4 L451.7 896.8 L452.6 897.1 L453.5 897.5 L454.4 897.8 L455.3 898.1 L456.2 898.4 L457.1 898.7 L458.0 899.0 L458.9 899.5 L459.8 899.9 L460.7 900.4 L461.6 900.8 L462.5 901.2 L463.4 901.6 L464.3 902.0 L465.2 902.2 L466.1 902.5 L467.0 902.8 L467.9 903.0 L468.8 903.4 L469.7 903.8 L470.7 904.1 L471.6 904.4 L472.5 904.7 L473.4 905.0 L474.3 905.3 L475.2 905.6 L476.2 905.9 L477.1 906.2 L478.0 906.5 L478.9 906.8 L479.9 907.1 L480.8 907.3 L481.7 907.5 L482.6 907.8 L483.6 908.1 L484.5 908.3 L485.4 908.5 L486.4 908.6 L487.3 908.7 L488.2 908.9 L489.2 909.1 L490.1 909.4 L491.0 909.5 L492.0 909.8 L492.9 910.1 L493.9 910.4 L494.8 910.6 L495.7 910.7 L496.7 910.7 L497.6 910.8 L498.6 911.0 L499.5 911.3 L500.5 911.5 L501.4 911.7 L502.4 911.9 L503.3 912.0 L504.3 912.1 L505.2 912.1 L506.2 912.2 L507.2 912.2 L508.1 912.3 L509.1 912.5 L510.0 912.7 L511.0 912.9 L512.0 912.9 L512.9 912.9 L513.9 913.0 L514.8 913.1 L515.8 913.2 L516.8 913.2 L517.7 913.2 L518.7 913.1 L519.7 913.2 L520.7 913.2 L521.6 913.2 L522.6 913.2 L523.6 913.3 L524.5 913.4 L525.5 913.4 L526.5 913.3 L527.5 913.3 L528.5 913.4 L529.4 913.5 L530.4 913.6 L531.4 913.7 L532.4 913.7 L533.3 913.5 L534.3 913.4 L535.3 913.3 L536.3 913.2 L537.3 913.1 L538.2 912.9 L539.2 912.7 L540.2 912.6 L541.2 912.5 L542.2 912.4 L543.2 912.3 L544.1 912.2 L545.1 912.2 L546.1 912.1 L547.1 912.0 L548.1 912.0 L549.1 911.9 L550.0 911.8 L551.0 911.7 L552.0 911.6 L553.0 911.4 L554.0 911.2 L555.0 911.0 L555.9 910.7 L556.9 910.6 L557.9 910.6 L558.9 910.5 L559.9 910.4 L560.9 910.3 L561.8 910.2 L562.8 910.2 L563.8 910.1 L564.8 909.9 L565.8 909.6 L566.7 909.3 L567.7 909.1 L568.7 908.8 L569.7 908.6 L570.7 908.3 L571.6 908.0 L572.6 907.7 L573.6 907.5 L574.6 907.3 L575.5 907.2 L576.5 906.9 L577.5 906.6 L578.5 906.3 L579.4 906.0 L580.4 905.8 L581.4 905.5 L582.3 905.3 L583.3 905.0 L584.3 904.7 L585.2 904.5 L586.2 904.3 L587.2 904.0 L588.1 903.7 L589.1 903.4 L590.0 903.2 L591.0 902.9 L592.0 902.7 L592.9 902.4 L593.9 902.0 L594.8 901.6 L595.8 901.2 L596.7 900.9 L597.7 900.6 L598.6 900.3 L599.6 900.1 L600.5 899.7 L601.5 899.4 L602.4 899.1 L603.3 898.8 L604.3 898.5 L605.2 898.2 L606.2 897.8 L607.1 897.4 L608.0 897.1 L609.0 896.9 L609.9 896.6 L610.8 896.3 L611.7 896.0 L612.7 895.6 L613.6 895.3 L614.5 894.9 L615.4 894.4 L616.4 894.0 L617.3 893.6 L618.2 893.2 L619.1 892.9 L620.0 892.5 L620.9 892.1 L621.9 891.7 L622.8 891.4 L623.7 891.1 L624.6 890.7 L625.5 890.3 L626.4 890.0 L627.3 889.6 L628.2 889.2 L629.1 888.8 L630.0 888.4 L630.9 888.0 L631.8 887.7 L632.7 887.3 L633.6 886.9 L634.5 886.4 L635.4 886.0 L636.3 885.6 L637.2 885.2 L638.1 884.7 L639.0 884.2 L639.9 883.8 L640.8 883.4 L641.7 882.9 L642.6 882.4 L643.5 882.0 L644.3 881.6 L645.2 881.1 L646.1 880.7 L647.0 880.2 L647.9 879.9 L648.8 879.7 L649.6 879.4 L650.5 879.0 L651.4 878.6 L652.3 878.2 L653.2 877.8 L654.0 877.3 L654.9 876.8 L655.8 876.4 L656.7 876.0 L657.5 875.5 L658.4 875.1 L659.3 874.6 L660.2 874.1 L661.0 873.6 L661.9 873.1 L662.8 872.7 L663.6 872.3 L664.5 871.9 L665.4 871.6 L666.2 871.1 L667.1 870.7 L668.0 870.2 L668.8 869.7 L669.7 869.3 L670.6 868.9 L671.4 868.5 L672.3 868.1 L673.2 867.7 L674.0 867.2 L674.9 866.8 L675.8 866.2 L676.6 865.6 L677.5 865.1 L678.3 864.6 L679.2 864.2 L680.1 863.8 L680.9 863.4 L681.8 863.0 L682.6 862.5 L683.5 862.0 L684.3 861.6 L685.2 861.3 L686.1 861.0 L686.9 860.6 L687.8 860.1 L688.6 859.6 L689.5 859.0 L690.3 858.6 L691.2 858.3 L692.0 858.0 L692.9 857.6 L693.7 857.1 L694.6 856.5 L695.4 856.0 L696.3 855.4 L697.2 855.0 L698.0 854.6 L698.9 854.2 L699.7 853.7 L700.6 853.2 L701.4 852.7 L702.3 852.2 L703.1 851.8 L703.9 851.4 L704.8 851.0 L705.6 850.7 L706.5 850.3 L707.3 849.8 L708.2 849.2 L709.0 848.7 L709.9 848.1 L710.7 847.7 L711.6 847.2 L712.4 846.8 L713.3 846.4 L714.1 846.0 L715.0 845.6 L715.8 845.2 L716.6 844.7 L717.5 844.2 L718.3 843.8 L719.2 843.3 L720.0 842.8 L720.9 842.3 L721.7 841.8 L722.6 841.4 L723.4 840.9 L724.2 840.4 L725.1 839.9 L725.9 839.5 L726.8 839.0 L727.6 838.4 L728.5 837.9 L729.3 837.4 L730.1 836.9 L731.0 836.4 L731.8 836.1 L732.7 835.7 L733.5 835.3 L734.4 834.8 L735.2 834.3 L736.0 833.8 L736.9 833.3 L737.7 832.8 L738.6 832.3 L739.4 831.8 L740.3 831.4 L741.1 831.0 L741.9 830.6 L742.8 830.2 L743.6 829.8 L744.5 829.3 L745.3 828.7 L746.1 828.1 L747.0 827.4 L747.8 826.9 L748.7 826.5 L749.5 826.1 L750.4 825.7 L751.2 825.0 L752.0 824.4 L752.9 823.9 L753.7 823.4 L754.6 823.0 L755.4 822.5 L756.3 821.9 L757.1 821.4 L757.9 821.0 L758.8 820.6 L759.6 820.2 L760.5 819.7 L761.3 819.2 L762.2 818.6 L763.0 818.1 L763.9 817.6 L764.7 817.1 L765.6 816.7 L766.4 816.2 L767.2 815.6 L768.1 815.0 L768.9 814.5 L769.8 814.1 L770.6 813.8 L771.5 813.4 L772.3 812.9 L773.2 812.3 L774.0 811.7 L774.9 811.2 L775.7 810.7 L776.6 810.1 L777.4 809.6 L778.3 809.0 L779.1 808.4 L780.0 807.9 L780.8 807.4 L781.7 806.8 L782.5 806.3 L783.4 805.8 L784.2 805.2 L785.1 804.7 L785.9 804.2 L786.8 803.7 L787.6 803.2 L788.5 802.7 L789.3 802.2 L790.2 801.6 L791.0 801.0 L791.9 800.5 L792.8 800.0 L793.6 799.5 L794.5 798.9 L795.3 798.3 L796.2 797.7 L797.0 797.2 L797.9 796.7 L798.8 796.2 L799.6 795.7 L800.5 795.2 L801.3 794.7 L802.2 794.3 L803.1 793.8 L803.9 793.3 L804.8 792.7 L805.6 792.0 L806.5 791.4 L807.4 790.7 L808.2 790.1 L809.1 789.5 L810.0 789.0 L810.8 788.4 L811.7 787.9 L812.6 787.4 L813.4 786.9 L814.3 786.3 L815.2 785.8 L816.0 785.3 L816.9 784.8 L817.8 784.3 L818.6 783.7 L819.5 783.1 L820.4 782.4 L821.3 781.9 L822.1 781.4 L823.0 780.9 L823.9 780.3 L824.8 779.7 L825.6 779.1 L826.5 778.5 L827.4 778.0 L828.3 777.5 L829.2 776.9 L830.0 776.2 L830.9 775.5 L831.8 774.9 L832.7 774.4"/>
<path stroke="#ff00ff" stroke-width="4.8" d="M132.3 419.9 L133.8 419.9 L135.3 419.9 L136.7 419.9 L138.2 419.9 L139.6 419.9 L141.0 419.9 L142.3 419.9 L143.7 419.9 L145.0 419.9 L146.4 419.9 L147.7 419.9 L148.9 419.9 L150.2 419.9 L151.4 419.9 L152.6 419.9 L153.8 419.9 L155.0 419.9 L156.2 419.9 L157.3 419.9 L158.5 419.9 L159.6 419.9 L160.7 419.9 L161.7 419.9 L162.8 419.9 L163.8 419.9 L164.8 419.9 L165.8 419.9 L166.8 419.9 L167.8 419.9 L168.7 419.9 L169.7 419.9 L170.6 419.9 L171.5 419.9 L172.4 419.9 L173.2 419.9 L174.1 419.9 L174.9 419.9 L175.7 419.9 L176.5 419.9 L177.3 419.9 L178.1 419.9 L178.8 419.9 L179.5 419.9 L180.3 419.9 L181.0 419.9 L181.7 419.9 L182.3 419.9 L183.0 419.9 L183.6 419.9 L184.2 419.9 L184.9 419.9 L185.4 419.9 L186.0 419.9 L186.6 419.9 L187.2 420.2 L187.7 420.9 L188.3 421.9 L188.8 423.1 L189.1 424.3 L189.4 425.4 L189.5 426.4 L189.6 427.3 L189.7 428.3 L189.8 429.2 L189.9 430.2 L190.0 431.1 L190.1 432.1 L190.1 433.1 L190.2 434.1 L190.3 435.0 L190.4 436.0 L190.4 437.0 L190.5 438.0 L190.6 439.0 L190.6 440.0 L190.7 441.0 L190.7 442.0 L190.8 443.0 L190.8 444.0 L190.9 445.0 L190.9 446.0 L191.0 447.0 L191.0 448.0 L191.0 449.0 L191.1 450.1 L191.1 451.1 L191.1 452.1 L191.2 453.1 L191.2 454.2 L191.2 455.2 L191.3 456.2 L191.3 457.2 L191.3 458.3 L191.4 459.3 L191.4 460.3 L191.4 461.3 L191.4 462.4 L191.5 463.4 L191.5 464.4 L191.5 465.5 L191.5 466.5 L191.5 467.5 L191.6 468.5 L191.6 469.6 L191.6 470.6 L191.6 471.6 L191.6 472.6 L191.7 473.6 L191.7 474.7 L191.7 475.7 L191.7 476.7 L191.7 477.7 L191.8 478.7 L191.8 479.7 L191.8 480.7 L191.8 481.7 L191.9 482.7 L191.9 483.7 L191.9 484.8 L191.9 485.8 L191.9 486.8 L191.9 487.8 L192.0 488.8 L192.0 489.8 L192.0 490.8 L192.0 491.8 L192.0 492.8 L192.0 493.8 L192.0 494.8 L192.1 495.8 L192.1 496.8 L192.1 497.8 L192.1 498.9 L192.1 499.9 L192.1 500.9 L192.1 501.9 L192.1 502.9 L192.1 503.9 L192.2 504.9 L192.2 505.9 L192.2 506.9 L192.2 507.9 L192.2 508.9 L192.2 509.9 L192.2 510.9 L192.3 511.9 L192.3 512.9 L192.3 514.0 L192.3 515.0 L192.3 516.0 L192.3 517.0 L192.4 518.0 L192.4 519.0 L192.4 520.0 L192.4 521.0 L192.5 522.0 L192.5 523.0 L192.5 524.0 L192.5 525.0 L192.6 526.0 L192.6 527.0 L192.7 528.1 L192.7 529.1 L192.7 530.1 L192.8 531.1 L192.8 532.1 L192.9 533.1 L193.0 534.1 L193.0 535.1 L193.1 536.1 L193.2 537.1 L193.3 538.2 L193.3 539.2 L193.4 540.2 L193.5 541.2 L193.6 542.1 L193.8 543.1 L193.9 544.1 L194.1 545.1 L194.3 546.1 L194.6 547.0 L194.9 548.0 L195.2 548.9 L195.5 549.9 L195.9 550.8 L196.2 551.7 L196.5 552.7 L196.9 553.6 L197.2 554.5 L197.6 555.5 L197.9 556.4 L198.3 557.3 L198.7 558.3 L199.0 559.2 L199.4 560.1 L199.8 561.0 L200.2 561.9 L200.5 562.9 L200.9 563.8 L201.3 564.7 L201.7 565.6 L202.1 566.5 L202.5 567.4 L202.9 568.3 L203.3 569.2 L203.7 570.1 L204.1 571.0 L204.5 571.9 L205.0 572.8 L205.4 573.7 L205.8 574.6 L206.2 575.5 L206.7 576.4 L207.1 577.3 L207.6 578.2 L208.0 579.1 L208.4 580.0 L208.9 580.9 L209.3 581.8 L209.8 582.6 L210.2 583.5 L210.7 584.4 L211.2 585.3 L211.6 586.2 L212.1 587.0 L212.6 587.9 L213.0 588.8 L213.5 589.7 L214.0 590.5 L214.5 591.4 L215.0 592.3 L215.5 593.1 L215.9 594.0 L216.4 594.9 L216.9 595.7 L217.4 596.6 L217.9 597.5 L218.4 598.3 L218.9 599.2 L219.4 600.0 L219.9 600.9 L220.5 601.8 L221.0 602.6 L221.5 603.5 L222.0 604.3 L222.5 605.2 L223.1 606.0 L223.6 606.9 L224.1 607.7 L224.6 608.5 L225.2 609.4 L225.7 610.2 L226.2 611.1 L226.8 611.9 L227.3 612.8 L227.9 613.6 L228.4 614.4 L228.9 615.3 L229.5 616.1 L230.0 616.9 L230.6 617.8 L231.1 618.6 L231.7 619.4 L232.3 620.3 L232.8 621.1 L233.4 621.9 L233.9 622.7 L234.5 623.6 L235.1 624.4 L235.6 625.2 L236.2 626.0 L236.8 626.8 L237.3 627.7 L237.9 628.5 L238.5 629.3 L239.1 630.1 L239.6 630.9 L240.2 631.7 L240.8 632.5 L241.4 633.4 L242.0 634.2 L242.5 635.0 L243.1 635.8 L243.7 636.6 L244.3 637.4 L244.9 638.2 L245.5 639.0 L246.1 639.8 L246.7 640.6 L247.3 641.4 L247.9 642.2 L248.5 643.0 L249.0 643.8 L249.6 644.6 L250.2 645.4 L250.8 646.2 L251.4 647.0 L252.1 647.8 L252.7 648.6 L253.3 649.4 L253.9 650.2 L254.5 651.0 L255.1 651.7 L255.7 652.5 L256.3 653.3 L256.9 654.1 L257.5 654.9 L258.1 655.7 L258.8 656.5 L259.4 657.2 L260.0 658.0 L260.6 658.8 L261.2 659.6 L261.9 660.4 L262.5 661.1 L263.1 661.9 L263.7 662.7 L264.4 663.5 L265.0 664.3 L265.6 665.0 L266.2 665.8 L266.9 666.6 L267.5 667.3 L268.1 668.1 L268.8 668.9 L269.4 669.7 L270.0 670.4 L270.7 671.2 L271.3 672.0 L272.0 672.7 L272.6 673.5 L273.2 674.3 L273.9 675.0 L274.5 675.8 L275.2 676.6 L275.8 677.3 L276.5 678.1 L277.1 678.8 L277.8 679.6 L278.4 680.4 L279.1 681.1 L279.7 681.9 L280.4 682.6 L281.0 683.4 L281.7 684.2 L282.3 684.9 L283.0 685.7 L283.6 686.4 L284.3 687.2 L285.0 687.9 L285.6 688.7 L286.3 689.4 L286.9 690.2 L287.6 690.9 L288.3 691.7 L288.9 692.5 L289.6 693.2 L290.3 693.9 L290.9 694.7 L291.6 695.4 L292.3 696.2 L293.0 696.9 L293.6 697.7 L294.3 698.4 L295.0 699.2 L295.6 699.9 L296.3 700.6 L297.0 701.4 L297.7 702.2 L298.4 702.9 L299.0 703.6 L299.7 704.3 L300.4 705.1 L301.1 705.8 L301.8 706.6 L302.4 707.3 L303.1 708.1 L303.8 708.8 L304.5 709.5 L305.2 710.2 L305.9 711.0 L306.6 711.8 L307.3 712.5 L308.0 713.2 L308.6 714.0 L309.3 714.7 L310.0 715.5 L310.7 716.2 L311.4 716.9 L312.1 717.6 L312.8 718.3 L313.5 719.0 L314.2 719.7 L314.9 720.5 L315.6 721.2 L316.3 722.0 L317.0 722.7 L317.7 723.5 L318.4 724.2 L319.1 725.0 L319.8 725.7 L320.5 726.5 L321.2 727.2 L321.9 727.9 L322.7 728.7 L323.4 729.4 L324.1 730.1 L324.8 730.8 L325.5 731.6 L326.2 732.3 L326.9 733.1 L327.6 733.9 L328.3 734.6 L329.1 735.4 L329.8 736.1 L330.5 736.8 L331.2 737.4 L331.9 738.1 L332.7 738.8 L333.4 739.5 L334.1 740.3 L334.8 741.0 L335.5 741.7 L336.3 742.4 L337.0 743.1 L337.7 743.8 L338.4 744.5 L339.2 745.3 L339.9 746.1 L340.6 746.8 L341.4 747.4 L342.1 748.2 L342.8 749.0 L343.5 749.7 L344.3 750.4 L345.0 751.0 L345.7 751.7 L346.5 752.3 L347.2 752.9 L348.0 753.6 L348.7 754.4 L349.4 755.1 L350.2 755.9 L350.9 756.6 L351.7 757.4 L352.4 758.1 L353.1 758.7 L353.9 759.3 L354.6 759.9 L355.4 760.6 L356.1 761.4 L356.9 762.1 L357.6 762.8 L358.4 763.4 L359.1 764.1 L359.9 764.8 L360.6 765.5 L361.4 766.2 L362.1 766.9 L362.9 767.5 L363.7 768.2 L364.4 769.0 L365.2 769.7 L365.9 770.4 L366.7 771.0 L367.5 771.7 L368.2 772.3 L369.0 773.0 L369.7 773.6 L370.5 774.4 L371.3 775.1 L372.0 775.7 L372.8 776.4 L373.6 777.1 L374.4 777.9 L375.1 778.5 L375.9 779.2 L376.7 779.9 L377.4 780.6 L378.2 781.4 L379.0 782.5 L379.8 783.6 L380.5 784.7 L381.3 785.3 L382.1 785.6 L382.9 785.6 L383.7 785.8 L384.5 786.2 L385.2 786.9 L386.0 787.6 L386.8 788.3 L387.6 788.8 L388.4 789.3 L389.2 790.0 L390.0 790.7 L390.8 791.5 L391.5 792.2 L392.3 792.7 L393.1 793.3 L393.9 793.8 L394.7 794.5 L395.5 795.3 L396.3 796.0 L397.1 796.6 L397.9 797.0 L398.7 797.5 L399.5 798.1 L400.3 798.7 L401.1 799.4 L401.9 800.2 L402.7 800.9 L403.6 801.6 L404.4 802.2 L405.2 802.8 L406.0 803.4 L406.8 804.0 L407.6 804.6 L408.4 805.0 L409.2 805.4 L410.1 805.9 L410.9 806.5 L411.7 807.1 L412.5 807.7 L413.3 808.2 L414.2 808.8 L415.0 809.7 L415.8 811.2 L416.6 813.0 L417.5 814.0 L418.3 813.6 L419.1 812.9 L419.9 812.8 L420.8 813.1 L421.6 813.7 L422.4 814.3 L423.3 815.0 L424.1 815.7 L424.9 816.3 L425.8 816.8 L426.6 817.3 L427.5 817.8 L428.3 818.5 L429.1 819.2 L430.0 819.7 L430.8 820.2 L431.7 820.7 L432.5 821.2 L433.4 821.7 L434.2 822.2 L435.1 822.7 L435.9 823.2 L436.8 823.8 L437.6 824.3 L438.5 824.7 L439.3 825.2 L440.2 825.7 L441.0 826.3 L441.9 826.9 L442.8 827.3 L443.6 827.8 L444.5 828.2 L445.4 828.6 L446.2 829.0 L447.1 829.5 L448.0 829.9 L448.8 830.4 L449.7 830.9 L450.6 831.3 L451.4 831.8 L452.3 832.3 L453.2 832.7 L454.1 833.2 L454.9 833.7 L455.8 834.2 L456.7 834.7 L457.6 835.0 L458.5 835.4 L459.3 835.8 L460.2 836.4 L461.1 836.9 L462.0 837.3 L462.9 837.7 L463.8 838.0 L464.7 838.3 L465.6 838.7 L466.5 839.1 L467.3 839.5 L468.2 839.9 L469.1 840.3 L470.0 840.8 L470.9 841.2 L471.8 841.7 L472.7 842.0 L473.6 842.5 L474.5 842.9 L475.4 843.4 L476.4 843.8 L477.3 844.1 L478.2 844.4 L479.1 844.6 L480.0 845.0 L480.9 845.4 L481.8 845.7 L482.7 846.0 L483.6 846.5 L484.5 846.8 L485.5 847.2 L486.4 847.6 L487.3 847.9 L488.2 848.1 L489.1 848.2 L490.1 848.5 L491.0 849.0 L491.9 849.5 L492.8 850.0 L493.8 850.4 L494.7 850.6 L495.6 850.7 L496.5 850.9 L497.5 851.3 L498.4 851.8 L499.3 852.1 L500.3 852.4 L501.2 852.7 L502.1 853.0 L503.1 853.3 L504.0 853.5 L504.9 853.8 L505.9 854.1 L506.8 854.3 L507.7 854.5 L508.7 854.8 L509.6 855.2 L510.6 855.5 L511.5 855.8 L512.5 856.1 L513.4 856.4 L514.3 856.6 L515.3 856.7 L516.2 856.9 L517.2 857.2 L518.1 857.5 L519.1 857.7 L520.0 857.9 L521.0 858.1 L521.9 858.4 L522.9 858.8 L523.8 859.1 L524.8 859.3 L525.7 859.5 L526.7 859.7 L527.6 859.9 L528.6 860.0 L529.6 860.2 L530.5 860.5 L531.5 860.8 L532.4 860.9 L533.4 861.0 L534.4 861.1 L535.3 861.3 L536.3 861.5 L537.2 861.7 L538.2 861.8 L539.2 861.9 L540.1 862.0 L541.1 862.1 L542.1 862.1 L543.0 862.2 L544.0 862.5 L545.0 862.8 L545.9 863.0 L546.9 863.2 L547.9 863.2 L548.8 863.3 L549.8 863.4 L550.8 863.6 L551.7 863.7 L552.7 863.8 L553.7 863.9 L554.7 864.0 L555.6 864.1 L556.6 864.2 L557.6 864.4 L558.6 864.4 L559.5 864.5 L560.5 864.7 L561.5 864.8 L562.5 864.8 L563.4 864.8 L564.4 864.8 L565.4 864.9 L566.4 865.0 L567.3 864.9 L568.3 864.9 L569.3 864.9 L570.3 865.0 L571.3 865.2 L572.2 865.3 L573.2 865.4 L574.2 865.6 L575.2 865.6 L576.2 865.6 L577.2 865.6 L578.1 865.6 L579.1 865.8 L580.1 865.9 L581.1 865.9 L582.1 865.8 L583.1 865.7 L584.0 865.8 L585.0 865.8 L586.0 865.9 L587.0 865.9 L588.0 865.9 L589.0 865.9 L590.0 865.8 L590.9 865.8 L591.9 865.7 L592.9 865.7 L593.9 865.6 L594.9 865.5 L595.9 865.5 L596.9 865.5 L597.9 865.6 L598.8 865.5 L599.8 865.3 L600.8 865.2 L601.8 865.3 L602.8 865.3 L603.8 865.4 L604.8 865.3 L605.8 865.1 L606.8 865.0 L607.8 865.0 L608.7 864.9 L609.7 864.8 L610.7 864.7 L611.7 864.6 L612.7 864.6 L613.7 864.5 L614.7 864.3 L615.7 864.1 L616.7 863.9 L617.7 863.9 L618.7 863.8 L619.6 863.7 L620.6 863.6 L621.6 863.5 L622.6 863.3 L623.6 863.2 L624.6 863.1 L625.6 862.9 L626.6 862.8 L627.6 862.7 L628.6 862.5 L629.6 862.4 L630.5 862.2 L631.5 862.1 L632.5 861.9 L633.5 861.7 L634.5 861.4 L635.5 861.2 L636.5 861.1 L637.5 861.0 L638.5 860.9 L639.5 860.7 L640.5 860.4 L641.5 860.1 L642.4 859.8 L643.4 859.5 L644.4 859.4 L645.4 859.3 L646.4 859.2 L647.4 859.0 L648.4 858.8 L649.4 858.6 L650.4 858.3 L651.4 858.1 L652.3 857.9 L653.3 857.7 L654.3 857.5 L655.3 857.3 L656.3 856.9 L657.3 856.5 L658.3 856.2 L659.3 856.0 L660.2 855.9 L661.2 855.7 L662.2 855.3 L663.2 854.9 L664.2 854.5 L665.2 854.1 L666.2 853.8 L667.2 853.7 L668.1 853.6 L669.1 853.5 L670.1 853.1 L671.1 852.8 L672.1 852.4 L673.1 852.1 L674.0 851.9 L675.0 851.7 L676.0 851.5 L677.0 851.1 L678.0 850.8 L679.0 850.5 L679.9 850.1 L680.9 849.8 L681.9 849.4 L682.9 849.1 L683.9 848.7 L684.8 848.4 L685.8 848.1 L686.8 847.8 L687.8 847.5 L688.8 847.1 L689.7 846.7 L690.7 846.4 L691.7 846.1 L692.7 845.9 L693.6 845.6 L694.6 845.2 L695.6 844.9 L696.6 844.6 L697.5 844.2 L698.5 843.8 L699.5 843.6 L700.4 843.3 L701.4 842.9 L702.4 842.5 L703.4 842.1 L704.3 841.7 L705.3 841.3 L706.3 840.9 L707.2 840.6 L708.2 840.3 L709.2 840.0 L710.1 839.7 L711.1 839.4 L712.1 839.0 L713.0 838.5 L714.0 838.1 L715.0 837.7 L715.9 837.3 L716.9 837.0 L717.8 836.6 L718.8 836.2 L719.8 835.8 L720.7 835.4 L721.7 835.0 L722.6 834.6 L723.6 834.2 L724.6 833.9 L725.5 833.6 L726.5 833.2 L727.4 832.8 L728.4 832.3 L729.3 831.9 L730.3 831.5 L731.2 831.2 L732.2 830.8 L733.1 830.4 L734.1 830.0 L735.0 829.6 L736.0 829.1 L736.9 828.6 L737.9 828.2 L738.8 827.9 L739.8 827.6 L740.7 827.3 L741.6 826.8 L742.6 826.3 L743.5 825.8 L744.5 825.4 L745.4 825.1 L746.3 824.8 L747.3 824.4 L748.2 824.0 L749.2 823.6 L750.1 823.2 L751.0 822.8 L752.0 822.5 L752.9 822.1 L753.8 821.7 L754.8 821.3 L755.7 820.9 L756.6 820.5 L757.5 820.0 L758.5 819.6 L759.4 819.2 L760.3 818.8 L761.2 818.4 L762.2 817.9 L763.1 817.4 L764.0 816.9 L764.9 816.6 L765.8 816.4 L766.8 816.1 L767.7 815.7 L768.6 815.3 L769.5 814.8 L770.4 814.4 L771.3 814.0 L772.2 813.6 L773.2 813.1 L774.1 812.6 L775.0 812.2 L775.9 811.8 L776.8 811.6 L777.7 811.2 L778.6 810.9 L779.5 810.5 L780.4 810.1 L781.3 809.8 L782.2 809.3 L783.1 808.8 L784.0 808.2 L784.9 807.8 L785.8 807.4 L786.7 807.1 L787.6 806.9 L788.5 806.5 L789.4 806.1 L790.3 805.7 L791.1 805.2 L792.0 804.7 L792.9 804.4 L793.8 804.0 L794.7 803.5 L795.6 803.0 L796.4 802.6 L797.3 802.3 L798.2 802.0 L799.1 801.7 L800.0 801.4 L800.8 800.9 L801.7 800.5 L802.6 800.1 L803.4 799.8 L804.3 799.4 L805.2 799.0 L806.0 798.6 L806.9 798.3 L807.8 798.0 L808.6 797.6 L809.5 797.3 L810.4 796.9 L811.2 796.5 L812.1 796.1 L812.9 795.7 L813.8 795.3 L814.6 795.0 L815.5 794.7 L816.3 794.3 L817.2 793.9 L818.0 793.5 L818.9 793.2 L819.7 792.9 L820.6 792.7 L821.4 792.4 L822.2 792.1 L823.1 791.7 L823.9 791.3 L824.8 791.0 L825.6 790.6 L826.4 790.3 L827.3 790.1 L828.1 789.8 L828.9 789.4 L829.7 789.0"/>
<path stroke="#ff8000" stroke-width="4.8" d="M132.3 419.9 L133.7 419.9 L135.1 419.9 L136.4 419.9 L137.7 419.9 L139.0 419.9 L140.3 419.9 L141.6 419.9 L142.8 419.9 L144.1 419.9 L145.3 419.9 L146.4 419.9 L147.6 419.9 L148.8 419.9 L149.9 419.9 L151.0 419.9 L152.1 419.9 L153.2 419.9 L154.2 419.9 L155.3 419.9 L156.3 419.9 L157.3 419.9 L158.3 419.9 L159.2 419.9 L160.2 419.9 L161.1 419.9 L162.0 419.9 L162.9 419.9 L163.8 419.9 L164.7 419.9 L165.5 419.9 L166.4 419.9 L167.2 419.9 L168.0 419.9 L168.8 419.9 L169.6 419.9 L170.3 419.9 L171.1 419.9 L171.8 419.9 L172.6 419.9 L173.3 419.9 L174.0 419.9 L174.7 420.1 L175.4 420.7 L176.1 421.7 L176.7 422.7 L177.2 423.8 L177.5 424.9 L177.6 425.8 L177.8 426.7 L178.0 427.6 L178.1 428.5 L178.2 429.4 L178.4 430.4 L178.5 431.3 L178.6 432.3 L178.7 433.2 L178.9 434.2 L179.0 435.2 L179.1 436.1 L179.2 437.1 L179.3 438.1 L179.3 439.1 L179.4 440.1 L179.5 441.1 L179.6 442.1 L179.7 443.1 L179.7 444.2 L179.8 445.2 L179.9 446.2 L179.9 447.2 L180.0 448.3 L180.0 449.3 L180.1 450.3 L180.1 451.4 L180.2 452.4 L180.2 453.5 L180.3 454.5 L180.3 455.6 L180.4 456.6 L180.4 457.7 L180.5 458.7 L180.5 459.8 L180.6 460.8 L180.6 461.9 L180.7 462.9 L180.7 464.0 L180.7 465.0 L180.8 466.1 L180.8 467.1 L180.9 468.2 L181.0 469.2 L181.0 470.3 L181.1 471.3 L181.1 472.3 L181.2 473.4 L181.3 474.4 L181.3 475.4 L181.4 476.5 L181.5 477.5 L181.6 478.5 L181.7 479.5 L181.7 480.5 L181.8 481.5 L181.9 482.6 L182.0 483.6 L182.1 484.6 L182.2 485.6 L182.3 486.6 L182.4 487.6 L182.5 488.6 L182.6 489.6 L182.7 490.6 L182.9 491.6 L183.0 492.7 L183.1 493.7 L183.2 494.7 L183.3 495.7 L183.4 496.7 L183.5 497.7 L183.6 498.7 L183.7 499.7 L183.7 500.7 L183.8 501.7 L183.9 502.8 L184.1 503.8 L184.2 504.8 L184.4 505.8 L184.6 506.8 L184.8 507.8 L185.0 508.8 L185.2 509.8 L185.4 510.8 L185.6 511.8 L185.8 512.7 L186.0 513.7 L186.2 514.7 L186.4 515.7 L186.7 516.7 L186.9 517.6 L187.2 518.6 L187.4 519.6 L187.7 520.6 L187.9 521.5 L188.2 522.5 L188.5 523.4 L188.8 524.4 L189.0 525.4 L189.3 526.3 L189.6 527.3 L189.9 528.2 L190.2 529.1 L190.5 530.1 L190.8 531.0 L191.2 532.0 L191.5 532.9 L191.8 533.8 L192.1 534.8 L192.5 535.7 L192.8 536.6 L193.2 537.5 L193.5 538.5 L193.9 539.4 L194.2 540.3 L194.6 541.2 L195.0 542.1 L195.3 543.0 L195.7 543.9 L196.1 544.8 L196.5 545.7 L196.9 546.6 L197.3 547.5 L197.7 548.4 L198.1 549.3 L198.5 550.2 L198.9 551.1 L199.3 552.0 L199.7 552.9 L200.1 553.8 L200.6 554.7 L201.0 555.5 L201.4 556.4 L201.9 557.3 L202.3 558.2 L202.8 559.0 L203.2 559.9 L203.7 560.8 L204.1 561.6 L204.6 562.5 L205.0 563.4 L205.5 564.2 L206.0 565.1 L206.5 565.9 L206.9 566.8 L207.4 567.6 L207.9 568.5 L208.4 569.3 L208.9 570.2 L209.4 571.0 L209.9 571.9 L210.4 572.7 L210.9 573.5 L211.4 574.4 L212.0 575.2 L212.5 576.0 L213.0 576.9 L213.5 577.7 L214.0 578.5 L214.6 579.4 L215.1 580.2 L215.7 581.0 L216.2 581.8 L216.7 582.6 L217.3 583.5 L217.8 584.3 L218.4 585.1 L218.9 585.9 L219.5 586.7 L220.1 587.5 L220.6 588.3 L221.2 589.1 L221.8 589.9 L222.3 590.7 L222.9 591.5 L223.5 592.3 L224.1 593.1 L224.7 593.9 L225.2 594.7 L225.8 595.5 L226.4 596.3 L227.0 597.1 L227.6 597.9 L228.2 598.7 L228.8 599.5 L229.4 600.3 L230.0 601.0 L230.6 601.8 L231.2 602.6 L231.8 603.4 L232.5 604.2 L233.1 604.9 L233.7 605.7 L234.3 606.5 L234.9 607.3 L235.6 608.0 L236.2 608.8 L236.8 609.6 L237.5 610.3 L238.1 611.1 L238.7 611.9 L239.4 612.6 L240.0 613.4 L240.6 614.2 L241.3 614.9 L241.9 615.7 L242.6 616.4 L243.2 617.2 L243.9 618.0 L244.5 618.7 L245.2 619.5 L245.8 620.2 L246.5 621.0 L247.1 621.7 L247.8 622.5 L248.5 623.2 L249.1 624.0 L249.8 624.7 L250.4 625.5 L251.1 626.2 L251.8 626.9 L252.5 627.7 L253.1 628.4 L253.8 629.2 L254.5 629.9 L255.1 630.6 L255.8 631.4 L256.5 632.1 L257.2 632.8 L257.9 633.6 L258.5 634.3 L259.2 635.0 L259.9 635.8 L260.6 636.5 L261.3 637.2 L262.0 638.0 L262.7 638.7 L263.4 639.4 L264.0 640.1 L264.7 640.9 L265.4 641.6 L266.1 642.3 L266.8 643.0 L267.5 643.8 L268.2 644.5 L268.9 645.2 L269.6 645.9 L270.3 646.7 L271.0 647.4 L271.7 648.1 L272.4 648.8 L273.2 649.5 L273.9 650.2 L274.6 651.0 L275.3 651.7 L276.0 652.4 L276.7 653.1 L277.4 653.8 L278.1 654.5 L278.8 655.2 L279.5 656.0 L280.3 656.7 L281.0 657.4 L281.7 658.1 L282.4 658.8 L283.1 659.5 L283.9 660.2 L284.6 660.9 L285.3 661.6 L286.0 662.3 L286.7 663.1 L287.5 663.8 L288.2 664.5 L288.9 665.2 L289.6 665.9 L290.4 666.6 L291.1 667.3 L291.8 668.0 L292.5 668.7 L293.3 669.4 L294.0 670.1 L294.7 670.8 L295.4 671.5 L296.2 672.2 L296.9 672.9 L297.6 673.6 L298.4 674.3 L299.1 675.0 L299.8 675.7 L300.5 676.4 L301.3 677.1 L302.0 677.8 L302.7 678.5 L303.5 679.3 L304.2 680.0 L304.9 680.7 L305.7 681.4 L306.4 682.1 L307.1 682.8 L307.9 683.5 L308.6 684.1 L309.3 684.8 L310.1 685.5 L310.8 686.2 L311.5 686.9 L312.3 687.6 L313.0 688.3 L313.8 689.0 L314.5 689.7 L315.2 690.4 L316.0 691.0 L316.7 691.7 L317.4 692.5 L318.2 693.2 L318.9 693.9 L319.7 694.6 L320.4 695.4 L321.1 696.1 L321.9 696.8 L322.6 697.4 L323.4 698.1 L324.1 698.8 L324.8 699.5 L325.6 700.2 L326.3 700.9 L327.1 701.6 L327.8 702.3 L328.5 703.0 L329.3 703.7 L330.0 704.4 L330.8 705.1 L331.5 705.8 L332.3 706.4 L333.0 707.1 L333.8 707.8 L334.5 708.5 L335.2 709.2 L336.0 709.9 L336.7 710.7 L337.5 711.4 L338.2 712.0 L339.0 712.6 L339.7 713.2 L340.5 713.9 L341.2 714.7 L342.0 715.5 L342.7 716.2 L343.5 716.9 L344.2 717.6 L345.0 718.2 L345.7 718.9 L346.5 719.6 L347.3 720.3 L348.0 721.0 L348.8 721.6 L349.5 722.2 L350.3 722.8 L351.0 723.4 L351.8 724.2 L352.5 724.9 L353.3 725.6 L354.1 726.2 L354.8 726.8 L355.6 727.5 L356.3 728.2 L357.1 728.9 L357.9 729.5 L358.6 730.2 L359.4 730.8 L360.1 731.5 L360.9 732.1 L361.7 732.8 L362.4 733.5 L363.2 734.3 L364.0 735.1 L364.7 735.8 L365.5 736.4 L366.3 736.9 L367.0 737.5 L367.8 738.2 L368.6 738.9 L369.3 739.5 L370.1 740.1 L370.9 740.8 L371.7 741.4 L372.4 742.1 L373.2 742.8 L374.0 743.5 L374.8 744.1 L375.5 744.8 L376.3 745.5 L377.1 746.1 L377.9 746.7 L378.6 747.3 L379.4 747.9 L380.2 748.5 L381.0 749.2 L381.8 749.8 L382.5 750.3 L383.3 750.8 L384.1 751.5 L384.9 752.2 L385.7 752.9 L386.5 753.7 L387.2 754.6 L388.0 755.7 L388.8 756.7 L389.6 757.5 L390.4 757.9 L391.2 758.1 L392.0 758.4 L392.8 758.8 L393.6 759.2 L394.3 759.8 L395.1 760.4 L395.9 761.1 L396.7 761.8 L397.5 762.4 L398.3 763.0 L399.1 763.6 L399.9 764.3 L400.7 764.9 L401.5 765.4 L402.3 765.9 L403.1 766.4 L403.9 767.1 L404.7 767.8 L405.5 768.5 L406.3 769.1 L407.1 769.6 L407.9 770.0 L408.7 770.6 L409.6 771.3 L410.4 772.0 L411.2 772.7 L412.0 773.3 L412.8 773.9 L413.6 774.5 L414.4 775.2 L415.2 776.1 L416.1 777.6 L416.9 779.3 L417.7 779.9 L418.5 779.3 L419.3 778.8 L420.1 778.9 L421.0 779.5 L421.8 780.0 L422.6 780.6 L423.4 781.2 L424.3 781.9 L425.1 782.5 L425.9 783.0 L426.7 783.5 L427.6 784.0 L428.4 784.6 L429.2 785.2 L430.0 785.7 L430.9 786.2 L431.7 786.7 L432.5 787.4 L433.4 788.0 L434.2 788.7 L435.1 789.3 L435.9 789.8 L436.7 790.3 L437.6 790.9 L438.4 791.5 L439.3 792.0 L440.1 792.5 L440.9 792.9 L441.8 793.4 L442.6 793.9 L443.5 794.5 L444.3 794.9 L445.2 795.4 L446.0 795.9 L446.9 796.4 L447.7 797.0 L448.6 797.5 L449.4 797.9 L450.3 798.4 L451.1 798.9 L452.0 799.5 L452.9 800.1 L453.7 800.6 L454.6 801.1 L455.4 801.5 L456.3 801.9 L457.2 802.3 L458.0 802.8 L458.9 803.3 L459.8 803.8 L460.6 804.4 L461.5 804.9 L462.4 805.4 L463.3 806.0 L464.1 806.6 L465.0 807.1 L465.9 807.6 L466.8 808.1 L467.6 808.5 L468.5 809.0 L469.4 809.3 L470.3 809.6 L471.2 809.9 L472.0 810.3 L472.9 810.9 L473.8 811.5 L474.7 812.0 L475.6 812.5 L476.5 812.8 L477.4 813.2 L478.2 813.6 L479.1 814.0 L480.0 814.4 L480.9 814.8 L481.8 815.1 L482.7 815.6 L483.6 816.1 L484.5 816.6 L485.4 817.0 L486.3 817.4 L487.2 817.9 L488.1 818.3 L489.0 818.9 L489.9 819.4 L490.8 819.8 L491.7 820.1 L492.6 820.4 L493.5 820.7 L494.4 821.2 L495.3 821.6 L496.2 822.0 L497.1 822.3 L498.1 822.7 L499.0 823.1 L499.9 823.5 L500.8 823.9 L501.7 824.3 L502.6 824.8 L503.5 825.3 L504.5 825.7 L505.4 826.1 L506.3 826.3 L507.2 826.6 L508.1 826.8 L509.1 827.2 L510.0 827.7 L510.9 828.2 L511.8 828.7 L512.7 829.1 L513.7 829.5 L514.6 829.7 L515.5 830.0 L516.5 830.2 L517.4 830.4 L518.3 830.7 L519.2 831.0 L520.2 831.3 L521.1 831.6 L522.0 832.1 L523.0 832.5 L523.9 832.9 L524.8 833.2 L525.8 833.4 L526.7 833.8 L527.6 834.1 L528.6 834.5 L529.5 834.8 L530.5 835.1 L531.4 835.4 L532.3 835.7 L533.3 836.1 L534.2 836.4 L535.2 836.6 L536.1 836.9 L537.0 837.2 L538.0 837.5 L538.9 837.8 L539.9 837.9 L540.8 838.1 L541.8 838.3 L542.7 838.6 L543.7 838.9 L544.6 839.3 L545.6 839.7 L546.5 840.0 L547.5 840.2 L548.4 840.4 L549.4 840.6 L550.3 840.9 L551.3 841.1 L552.2 841.3 L553.2 841.5 L554.2 841.7 L555.1 842.0 L556.1 842.4 L557.0 842.8 L558.0 843.1 L558.9 843.2 L559.9 843.3 L560.9 843.4 L561.8 843.6 L562.8 843.8 L563.7 844.0 L564.7 844.2 L565.7 844.3 L566.6 844.5 L567.6 844.7 L568.6 844.9 L569.5 845.2 L570.5 845.5 L571.5 845.8 L572.4 846.0 L573.4 846.2 L574.4 846.3 L575.3 846.4 L576.3 846.5 L577.3 846.6 L578.2 846.7 L579.2 846.8 L580.2 847.0 L581.1 847.2 L582.1 847.3 L583.1 847.5 L584.1 847.7 L585.0 848.0 L586.0 848.3 L587.0 848.5 L587.9 848.5 L588.9 848.6 L589.9 848.6 L590.9 848.7 L591.9 848.8 L592.8 848.9 L593.8 848.9 L594.8 848.9 L595.8 849.0 L596.7 849.2 L597.7 849.4 L598.7 849.6 L599.7 849.8 L600.7 849.9 L601.6 850.0 L602.6 850.1 L603.6 850.2 L604.6 850.3 L605.6 850.2 L606.5 850.2 L607.5 850.2 L608.5 850.2 L609.5 850.3 L610.5 850.4 L611.4 850.5 L612.4 850.6 L613.4 850.8 L614.4 850.9 L615.4 851.0 L616.4 851.0 L617.4 851.1 L618.3 851.1 L619.3 851.1 L620.3 851.1 L621.3 851.2 L622.3 851.2 L623.3 851.3 L624.3 851.4 L625.2 851.3 L626.2 851.2 L627.2 851.2 L628.2 851.2 L629.2 851.1 L630.2 851.0 L631.2 851.0 L632.2 851.0 L633.2 851.1 L634.1 851.2 L635.1 851.2 L636.1 851.3 L637.1 851.3 L638.1 851.2 L639.1 851.2 L640.1 851.1 L641.1 851.1 L642.1 851.1 L643.1 851.0 L644.1 850.9 L645.0 850.9 L646.0 851.0 L647.0 851.0 L648.0 850.9 L649.0 850.8 L650.0 850.6 L651.0 850.3 L652.0 850.2 L653.0 850.2 L654.0 850.3 L655.0 850.2 L656.0 850.1 L657.0 850.0 L657.9 849.7 L658.9 849.5 L659.9 849.3 L660.9 849.3 L661.9 849.3 L662.9 849.4 L663.9 849.3 L664.9 849.2 L665.9 849.1 L666.9 849.0 L667.9 848.8 L668.9 848.7 L669.9 848.7 L670.9 848.6 L671.9 848.5 L672.9 848.4 L673.9 848.2 L674.9 848.0 L675.8 847.8 L676.8 847.7 L677.8 847.6 L678.8 847.6 L679.8 847.4 L680.8 847.2 L681.8 847.0 L682.8 846.7 L683.8 846.5 L684.8 846.4 L685.8 846.3 L686.8 846.2 L687.8 846.1 L688.8 845.9 L689.8 845.6 L690.8 845.4 L691.8 845.3 L692.8 845.2 L693.7 845.1 L694.7 844.8 L695.7 844.5 L696.7 844.3 L697.7 844.2 L698.7 844.1 L699.7 843.9 L700.7 843.8 L701.7 843.6 L702.7 843.4 L703.7 843.1 L704.7 842.8 L705.7 842.5 L706.7 842.2 L707.7 842.0 L708.6 841.9 L709.6 841.8 L710.6 841.5 L711.6 841.2 L712.6 841.1 L713.6 841.0 L714.6 841.0 L715.6 840.9 L716.6 840.7 L717.6 840.5 L718.6 840.2 L719.6 839.9 L720.5 839.6 L721.5 839.3 L722.5 839.0 L723.5 838.8 L724.5 838.6 L725.5 838.4 L726.5 838.1 L727.5 837.8 L728.5 837.6 L729.5 837.4 L730.4 837.2 L731.4 837.0 L732.4 836.7 L733.4 836.4 L734.4 836.2 L735.4 836.0 L736.4 835.7 L737.4 835.4 L738.3 835.1 L739.3 834.9 L740.3 834.6 L741.3 834.3 L742.3 833.9 L743.3 833.6 L744.3 833.3 L745.2 833.0 L746.2 832.8 L747.2 832.6 L748.2 832.3 L749.2 832.0 L750.2 831.7 L751.1 831.4 L752.1 831.2 L753.1 830.9 L754.1 830.7 L755.1 830.4 L756.0 830.1 L757.0 829.9 L758.0 829.7 L759.0 829.4 L760.0 829.1 L760.9 828.8 L761.9 828.5 L762.9 828.2 L763.9 828.0 L764.9 827.7 L765.8 827.4 L766.8 827.1 L767.8 826.8 L768.8 826.4 L769.7 826.1 L770.7 825.9 L771.7 825.7 L772.7 825.6 L773.6 825.4 L774.6 825.1 L775.6 824.7 L776.5 824.4 L777.5 824.0 L778.5 823.7 L779.5 823.4 L780.4 823.1 L781.4 822.9 L782.4 822.7 L783.3 822.3 L784.3 822.0 L785.3 821.7 L786.2 821.5 L787.2 821.3 L788.2 821.1 L789.1 820.8 L790.1 820.4 L791.1 819.9 L792.0 819.5 L793.0 819.2 L794.0 818.9 L794.9 818.6 L795.9 818.2 L796.8 817.9 L797.8 817.5 L798.8 817.3 L799.7 817.1 L800.7 816.8 L801.6 816.5 L802.6 816.2 L803.5 816.0 L804.5 815.8 L805.5 815.5 L806.4 815.2 L807.4 814.8 L808.3 814.5 L809.3 814.1 L810.2 813.7 L811.2 813.4 L812.1 813.2 L813.1 813.0 L814.0 812.7 L815.0 812.4 L815.9 812.1 L816.9 811.8 L817.8 811.5 L818.8 811.2 L819.7 810.8 L820.7 810.4 L821.6 810.0 L822.6 809.8 L823.5 809.7 L824.4 809.5 L825.4 809.2 L826.3 808.7 L827.3 808.4 L828.2 808.1 L829.1 807.9 L830.1 807.6 L831.0 807.3 L832.0 806.9"/>
<path stroke="#8000ff" stroke-width="4.8" d="M132.3 419.9 L133.6 419.9 L134.9 419.9 L136.2 419.9 L137.4 419.9 L138.5 419.9 L139.6 419.9 L140.7 419.9 L141.7 419.9 L142.7 419.9 L143.5 419.9 L144.4 419.9 L145.2 420.0 L145.9 420.1 L146.7 420.4 L147.4 420.9 L148.0 421.6 L148.6 422.5 L149.2 423.5 L149.7 424.6 L150.2 425.7 L150.5 426.8 L150.8 427.9 L151.1 429.0 L151.3 430.0 L151.5 431.0 L151.7 432.0 L151.9 433.0 L152.1 434.0 L152.4 435.0 L152.6 436.0 L152.8 436.9 L153.0 437.9 L153.3 438.9 L153.5 439.9 L153.7 440.9 L154.0 441.8 L154.2 442.8 L154.5 443.8 L154.7 444.7 L155.0 445.7 L155.3 446.7 L155.5 447.6 L155.8 448.6 L156.1 449.6 L156.3 450.5 L156.6 451.5 L156.9 452.4 L157.2 453.4 L157.4 454.4 L157.7 455.3 L158.0 456.3 L158.3 457.2 L158.6 458.2 L158.9 459.1 L159.2 460.1 L159.5 461.0 L159.8 462.0 L160.2 462.9 L160.5 463.8 L160.8 464.8 L161.1 465.7 L161.4 466.7 L161.8 467.6 L162.1 468.5 L162.4 469.5 L162.8 470.4 L163.1 471.3 L163.5 472.3 L163.8 473.2 L164.2 474.1 L164.5 475.1 L164.9 476.0 L165.2 476.9 L165.6 477.8 L166.0 478.8 L166.3 479.7 L166.7 480.6 L167.1 481.5 L167.4 482.4 L167.8 483.4 L168.2 484.3 L168.6 485.2 L169.0 486.1 L169.4 487.0 L169.8 487.9 L170.2 488.8 L170.6 489.7 L171.0 490.6 L171.4 491.5 L171.8 492.4 L172.2 493.3 L172.6 494.3 L173.0 495.2 L173.4 496.0 L173.9 496.9 L174.3 497.8 L174.7 498.7 L175.1 499.6 L175.6 500.5 L176.0 501.4 L176.4 502.3 L176.9 503.2 L177.3 504.1 L177.8 505.0 L178.2 505.9 L178.7 506.7 L179.1 507.6 L179.6 508.5 L180.0 509.4 L180.5 510.3 L180.9 511.1 L181.4 512.0 L181.9 512.9 L182.3 513.8 L182.8 514.6 L183.3 515.5 L183.8 516.4 L184.3 517.3 L184.7 518.1 L185.2 519.0 L185.7 519.9 L186.2 520.7 L186.7 521.6 L187.2 522.4 L187.7 523.3 L188.2 524.2 L188.7 525.0 L189.2 525.9 L189.7 526.7 L190.2 527.6 L190.7 528.5 L191.2 529.3 L191.7 530.2 L192.2 531.0 L192.8 531.9 L193.3 532.7 L193.8 533.6 L194.3 534.4 L194.9 535.2 L195.4 536.1 L195.9 536.9 L196.5 537.8 L197.0 538.6 L197.5 539.5 L198.1 540.3 L198.6 541.1 L199.2 542.0 L199.7 542.8 L200.3 543.6 L200.8 544.5 L201.4 545.3 L201.9 546.1 L202.5 547.0 L203.0 547.8 L203.6 548.6 L204.1 549.4 L204.7 550.3 L205.3 551.1 L205.8 551.9 L206.4 552.7 L207.0 553.6 L207.6 554.4 L208.1 555.2 L208.7 556.0 L209.3 556.8 L209.9 557.6 L210.5 558.5 L211.1 559.3 L211.6 560.1 L212.2 560.9 L212.8 561.7 L213.4 562.5 L214.0 563.3 L214.6 564.1 L215.2 564.9 L215.8 565.7 L216.4 566.5 L217.0 567.3 L217.6 568.1 L218.2 568.9 L218.8 569.7 L219.4 570.5 L220.0 571.3 L220.7 572.1 L221.3 572.9 L221.9 573.7 L222.5 574.5 L223.1 575.3 L223.8 576.1 L224.4 576.9 L225.0 577.7 L225.6 578.5 L226.3 579.2 L226.9 580.0 L227.5 580.8 L228.1 581.6 L228.8 582.4 L229.4 583.2 L230.1 583.9 L230.7 584.7 L231.3 585.5 L232.0 586.3 L232.6 587.0 L233.3 587.8 L233.9 588.6 L234.6 589.4 L235.2 590.1 L235.8 590.9 L236.5 591.7 L237.2 592.4 L237.8 593.2 L238.5 594.0 L239.1 594.7 L239.8 595.5 L240.4 596.3 L241.1 597.0 L241.8 597.8 L242.4 598.6 L243.1 599.3 L243.7 600.1 L244.4 600.8 L245.1 601.6 L245.7 602.3 L246.4 603.1 L247.1 603.9 L247.8 604.6 L248.4 605.4 L249.1 606.1 L249.8 606.9 L250.5 607.6 L251.1 608.4 L251.8 609.1 L252.5 609.8 L253.2 610.6 L253.9 611.3 L254.5 612.1 L255.2 612.8 L255.9 613.6 L256.6 614.3 L257.3 615.0 L258.0 615.8 L258.7 616.5 L259.4 617.2 L260.1 618.0 L260.7 618.7 L261.4 619.5 L262.1 620.2 L262.8 620.9 L263.5 621.6 L264.2 622.4 L264.9 623.1 L265.6 623.8 L266.3 624.6 L267.0 625.3 L267.7 626.0 L268.4 626.7 L269.1 627.5 L269.8 628.2 L270.5 628.9 L271.2 629.6 L271.9 630.3 L272.6 631.1 L273.4 631.8 L274.1 632.5 L274.8 633.2 L275.5 633.9 L276.2 634.6 L276.9 635.3 L277.6 636.1 L278.3 636.8 L279.0 637.5 L279.7 638.2 L280.5 638.9 L281.2 639.6 L281.9 640.3 L282.6 641.0 L283.3 641.7 L284.0 642.4 L284.8 643.1 L285.5 643.8 L286.2 644.5 L286.9 645.2 L287.6 645.9 L288.4 646.6 L289.1 647.3 L289.8 648.0 L290.5 648.7 L291.2 649.4 L292.0 650.1 L292.7 650.8 L293.4 651.5 L294.1 652.2 L294.9 652.9 L295.6 653.6 L296.3 654.3 L297.0 655.0 L297.8 655.6 L298.5 656.3 L299.2 657.0 L299.9 657.7 L300.7 658.3 L301.4 659.0 L302.1 659.8 L302.8 660.4 L303.6 661.1 L304.3 661.7 L305.0 662.4 L305.8 663.1 L306.5 663.8 L307.2 664.5 L307.9 665.2 L308.7 665.9 L309.4 666.6 L310.1 667.2 L310.9 667.9 L311.6 668.6 L312.3 669.2 L313.1 669.9 L313.8 670.6 L314.5 671.3 L315.3 672.0 L316.0 672.6 L316.7 673.3 L317.5 673.9 L318.2 674.5 L318.9 675.2 L319.7 675.8 L320.4 676.5 L321.1 677.2 L321.9 677.9 L322.6 678.5 L323.4 679.2 L324.1 679.9 L324.8 680.5 L325.6 681.1 L326.3 681.8 L327.0 682.5 L327.8 683.1 L328.5 683.8 L329.3 684.4 L330.0 685.1 L330.7 685.7 L331.5 686.4 L332.2 687.1 L333.0 687.7 L333.7 688.4 L334.5 689.0 L335.2 689.6 L336.0 690.2 L336.7 690.8 L337.4 691.4 L338.2 692.1 L338.9 692.7 L339.7 693.4 L340.4 694.0 L341.2 694.6 L341.9 695.2 L342.7 695.9 L343.4 696.5 L344.2 697.1 L344.9 697.8 L345.7 698.5 L346.4 699.2 L347.2 699.9 L347.9 700.5 L348.7 701.2 L349.4 701.8 L350.2 702.4 L351.0 703.0 L351.7 703.6 L352.5 704.2 L353.2 704.9 L354.0 705.6 L354.7 706.2 L355.5 706.9 L356.3 707.5 L357.0 708.2 L357.8 708.8 L358.5 709.4 L359.3 709.9 L360.1 710.5 L360.8 711.2 L361.6 711.8 L362.3 712.4 L363.1 713.0 L363.9 713.7 L364.6 714.4 L365.4 715.0 L366.2 715.5 L366.9 716.0 L367.7 716.5 L368.5 717.2 L369.2 718.0 L370.0 718.7 L370.8 719.4 L371.6 720.0 L372.3 720.6 L373.1 721.2 L373.9 721.8 L374.6 722.4 L375.4 723.0 L376.2 723.7 L377.0 724.2 L377.7 724.7 L378.5 725.2 L379.3 725.7 L380.1 726.4 L380.9 727.1 L381.6 727.7 L382.4 728.2 L383.2 728.8 L384.0 729.4 L384.8 730.0 L385.5 730.7 L386.3 731.2 L387.1 731.8 L387.9 732.5 L388.7 733.2 L389.5 734.1 L390.3 735.2 L391.0 736.2 L391.8 737.0 L392.6 737.4 L393.4 737.6 L394.2 737.7 L395.0 737.9 L395.8 738.4 L396.6 739.0 L397.4 739.7 L398.2 740.2 L399.0 740.8 L399.8 741.4 L400.6 742.0 L401.4 742.6 L402.2 743.2 L403.0 743.8 L403.8 744.4 L404.6 745.0 L405.4 745.6 L406.2 746.2 L407.0 746.7 L407.8 747.2 L408.6 747.8 L409.4 748.4 L410.2 749.0 L411.0 749.5 L411.8 749.9 L412.6 750.4 L413.4 751.1 L414.2 751.8 L415.1 752.7 L415.9 754.2 L416.7 755.9 L417.5 756.8 L418.3 756.5 L419.1 756.0 L419.9 756.0 L420.8 756.5 L421.6 757.1 L422.4 757.6 L423.2 758.2 L424.0 758.7 L424.9 759.2 L425.7 759.9 L426.5 760.5 L427.3 761.1 L428.2 761.6 L429.0 762.2 L429.8 762.9 L430.6 763.4 L431.5 763.9 L432.3 764.3 L433.1 764.8 L434.0 765.4 L434.8 766.1 L435.6 766.8 L436.5 767.4 L437.3 767.8 L438.1 768.2 L439.0 768.7 L439.8 769.3 L440.6 770.0 L441.5 770.7 L442.3 771.3 L443.2 771.9 L444.0 772.4 L444.8 772.9 L445.7 773.4 L446.5 773.9 L447.4 774.5 L448.2 775.0 L449.1 775.4 L449.9 775.9 L450.8 776.5 L451.6 777.1 L452.5 777.7 L453.3 778.2 L454.2 778.8 L455.0 779.4 L455.9 780.0 L456.7 780.5 L457.6 781.0 L458.4 781.5 L459.3 782.0 L460.1 782.6 L461.0 783.1 L461.8 783.6 L462.7 784.1 L463.6 784.7 L464.4 785.3 L465.3 786.0 L466.1 786.6 L467.0 787.1 L467.9 787.5 L468.7 788.1 L469.6 788.7 L470.5 789.2 L471.3 789.6 L472.2 790.0 L473.1 790.5 L473.9 791.1 L474.8 791.6 L475.7 792.1 L476.5 792.5 L477.4 793.0 L478.3 793.5 L479.2 794.0 L480.0 794.5 L480.9 794.9 L481.8 795.4 L482.6 796.0 L483.5 796.5 L484.4 797.1 L485.3 797.6 L486.2 798.1 L487.0 798.5 L487.9 798.9 L488.8 799.3 L489.7 799.8 L490.6 800.3 L491.4 800.8 L492.3 801.4 L493.2 801.9 L494.1 802.4 L495.0 803.0 L495.9 803.6 L496.8 804.1 L497.6 804.6 L498.5 805.1 L499.4 805.5 L500.3 806.0 L501.2 806.4 L502.1 806.7 L503.0 807.0 L503.9 807.4 L504.8 807.9 L505.7 808.5 L506.6 809.1 L507.5 809.5 L508.3 809.9 L509.2 810.3 L510.1 810.7 L511.0 811.1 L511.9 811.5 L512.8 811.9 L513.7 812.3 L514.6 812.7 L515.5 813.3 L516.4 813.8 L517.3 814.2 L518.2 814.6 L519.1 815.1 L520.1 815.6 L521.0 816.1 L521.9 816.7 L522.8 817.1 L523.7 817.4 L524.6 817.7 L525.5 818.1 L526.4 818.5 L527.3 818.9 L528.2 819.3 L529.1 819.7 L530.0 820.1 L531.0 820.5 L531.9 820.9 L532.8 821.3 L533.7 821.8 L534.6 822.3 L535.5 822.8 L536.4 823.3 L537.4 823.6 L538.3 823.9 L539.2 824.2 L540.1 824.5 L541.0 824.8 L542.0 825.3 L542.9 825.9 L543.8 826.4 L544.7 826.9 L545.6 827.2 L546.6 827.5 L547.5 827.8 L548.4 828.0 L549.3 828.3 L550.3 828.6 L551.2 828.9 L552.1 829.2 L553.0 829.6 L554.0 830.1 L554.9 830.5 L555.8 830.9 L556.8 831.2 L557.7 831.5 L558.6 831.9 L559.5 832.3 L560.5 832.7 L561.4 833.1 L562.3 833.4 L563.3 833.7 L564.2 834.0 L565.1 834.4 L566.1 834.7 L567.0 835.0 L567.9 835.3 L568.9 835.7 L569.8 836.0 L570.8 836.3 L571.7 836.5 L572.6 836.7 L573.6 837.0 L574.5 837.3 L575.5 837.6 L576.4 838.0 L577.3 838.4 L578.3 838.7 L579.2 839.0 L580.2 839.2 L581.1 839.5 L582.1 839.8 L583.0 840.1 L584.0 840.3 L584.9 840.5 L585.8 840.7 L586.8 841.1 L587.7 841.5 L588.7 842.0 L589.6 842.3 L590.6 842.4 L591.5 842.6 L592.5 842.7 L593.4 842.9 L594.4 843.1 L595.3 843.4 L596.3 843.6 L597.2 843.8 L598.2 844.0 L599.2 844.3 L600.1 844.5 L601.1 844.8 L602.0 845.2 L603.0 845.5 L603.9 845.8 L604.9 846.0 L605.9 846.1 L606.8 846.3 L607.8 846.4 L608.7 846.5 L609.7 846.7 L610.6 846.8 L611.6 847.0 L612.6 847.2 L613.5 847.4 L614.5 847.6 L615.5 847.9 L616.4 848.2 L617.4 848.5 L618.3 848.7 L619.3 848.8 L620.3 848.9 L621.2 849.0 L622.2 849.2 L623.2 849.3 L624.1 849.4 L625.1 849.4 L626.1 849.5 L627.0 849.6 L628.0 849.8 L629.0 850.1 L630.0 850.3 L630.9 850.5 L631.9 850.7 L632.9 850.8 L633.8 851.0 L634.8 851.2 L635.8 851.2 L636.8 851.2 L637.7 851.2 L638.7 851.3 L639.7 851.3 L640.7 851.5 L641.6 851.6 L642.6 851.8 L643.6 851.9 L644.6 852.1 L645.5 852.2 L646.5 852.4 L647.5 852.5 L648.5 852.6 L649.4 852.6 L650.4 852.7 L651.4 852.8 L652.4 852.8 L653.4 853.0 L654.3 853.1 L655.3 853.2 L656.3 853.2 L657.3 853.2 L658.3 853.2 L659.3 853.2 L660.2 853.2 L661.2 853.2 L662.2 853.2 L663.2 853.3 L664.2 853.4 L665.2 853.6 L666.1 853.7 L667.1 853.8 L668.1 853.8 L669.1 853.8 L670.1 853.8 L671.1 853.8 L672.1 853.9 L673.1 853.9 L674.0 853.9 L675.0 853.9 L676.0 854.0 L677.0 854.1 L678.0 854.1 L679.0 854.2 L680.0 854.1 L681.0 854.0 L682.0 853.8 L683.0 853.7 L683.9 853.8 L684.9 853.9 L685.9 854.0 L686.9 853.9 L687.9 853.8 L688.9 853.7 L689.9 853.5 L690.9 853.4 L691.9 853.4 L692.9 853.6 L693.9 853.7 L694.9 853.7 L695.9 853.7 L696.9 853.6 L697.9 853.6 L698.9 853.5 L699.9 853.5 L700.9 853.5 L701.9 853.6 L702.9 853.5 L703.9 853.5 L704.9 853.4 L705.9 853.3 L706.9 853.2 L707.9 853.1 L708.9 853.1 L709.9 853.1 L710.9 853.1 L711.9 852.9 L712.9 852.8 L713.9 852.6 L714.9 852.5 L715.9 852.5 L716.9 852.5 L717.9 852.4 L718.9 852.4 L719.9 852.3 L720.9 852.1 L721.9 852.0 L722.9 852.0 L723.9 852.0 L724.9 851.9 L725.9 851.8 L726.9 851.6 L728.0 851.4 L729.0 851.4 L730.0 851.4 L731.0 851.3 L732.0 851.3 L733.0 851.2 L734.0 851.0 L735.0 850.8 L736.0 850.6 L737.0 850.4 L738.0 850.2 L739.1 850.1 L740.1 850.1 L741.1 850.1 L742.1 849.9 L743.1 849.7 L744.1 849.6 L745.1 849.7 L746.1 849.7 L747.1 849.7 L748.2 849.7 L749.2 849.5 L750.2 849.3 L751.2 849.1 L752.2 848.9 L753.2 848.7 L754.2 848.5 L755.3 848.4 L756.3 848.3 L757.3 848.1 L758.3 848.0 L759.3 847.8 L760.3 847.6 L761.3 847.6 L762.4 847.5 L763.4 847.3 L764.4 847.1 L765.4 847.0 L766.4 846.8 L767.4 846.7 L768.5 846.5 L769.5 846.3 L770.5 846.1 L771.5 846.0 L772.5 845.8 L773.5 845.6 L774.6 845.3 L775.6 845.1 L776.6 844.9 L777.6 844.7 L778.6 844.6 L779.7 844.5 L780.7 844.3 L781.7 844.0 L782.7 843.8 L783.7 843.7 L784.8 843.5 L785.8 843.4 L786.8 843.2 L787.8 843.0 L788.9 842.9 L789.9 842.7 L790.9 842.6 L791.9 842.4 L792.9 842.2 L794.0 842.0 L795.0 841.8 L796.0 841.6 L797.0 841.5 L798.1 841.3 L799.1 841.0 L800.1 840.8 L801.1 840.6 L802.1 840.4 L803.2 840.1 L804.2 840.0 L805.2 840.0 L806.2 839.9 L807.3 839.8 L808.3 839.6 L809.3 839.3 L810.3 839.0 L811.4 838.8 L812.4 838.5 L813.4 838.3 L814.4 838.1 L815.5 838.0 L816.5 837.9 L817.5 837.6 L818.6 837.4 L819.6 837.1 L820.6 837.0 L821.6 837.0 L822.7 836.8 L823.7 836.6 L824.7 836.3 L825.7 835.9 L826.8 835.6 L827.8 835.4 L828.8 835.1 L829.9 834.9 L830.9 834.7 L831.9 834.4 L832.9 834.1 L834.0 833.9"/>
<path stroke="#800000" stroke-width="4.8" d="M131.9 423.5 L132.5 424.3 L133.1 425.1 L133.7 425.9 L134.3 426.7 L134.9 427.5 L135.5 428.3 L136.0 429.2 L136.6 430.0 L137.2 430.8 L137.8 431.6 L138.4 432.4 L139.0 433.2 L139.5 434.0 L140.1 434.8 L140.7 435.7 L141.3 436.5 L141.9 437.3 L142.4 438.1 L143.0 438.9 L143.6 439.7 L144.2 440.5 L144.8 441.4 L145.4 442.2 L145.9 443.0 L146.5 443.8 L147.1 444.6 L147.7 445.4 L148.3 446.3 L148.8 447.1 L149.4 447.9 L150.0 448.7 L150.6 449.5 L151.2 450.3 L151.7 451.2 L152.3 452.0 L152.9 452.8 L153.5 453.6 L154.1 454.4 L154.6 455.2 L155.2 456.1 L155.8 456.9 L156.4 457.7 L157.0 458.5 L157.5 459.3 L158.1 460.1 L158.7 461.0 L159.3 461.8 L159.9 462.6 L160.5 463.4 L161.0 464.2 L161.6 465.0 L162.2 465.9 L162.8 466.7 L163.4 467.5 L164.0 468.3 L164.5 469.1 L165.1 469.9 L165.7 470.7 L166.3 471.6 L166.9 472.4 L167.5 473.2 L168.0 474.0 L168.6 474.8 L169.2 475.6 L169.8 476.4 L170.4 477.2 L171.0 478.1 L171.6 478.9 L172.1 479.7 L172.7 480.5 L173.3 481.3 L173.9 482.1 L174.5 482.9 L175.1 483.7 L175.7 484.5 L176.3 485.3 L176.9 486.1 L177.4 487.0 L178.0 487.8 L178.6 488.6 L179.2 489.4 L179.8 490.2 L180.4 491.0 L181.0 491.8 L181.6 492.6 L182.2 493.4 L182.8 494.2 L183.4 495.0 L184.0 495.8 L184.6 496.6 L185.2 497.4 L185.8 498.2 L186.4 499.0 L187.0 499.8 L187.6 500.6 L188.2 501.4 L188.8 502.2 L189.4 503.0 L190.0 503.8 L190.6 504.5 L191.2 505.3 L191.8 506.1 L192.4 506.9 L193.0 507.7 L193.6 508.5 L194.3 509.3 L194.9 510.1 L195.5 510.9 L196.1 511.7 L196.7 512.4 L197.3 513.2 L197.9 514.0 L198.5 514.8 L199.2 515.6 L199.8 516.4 L200.4 517.1 L201.0 517.9 L201.6 518.7 L202.3 519.5 L202.9 520.2 L203.5 521.0 L204.1 521.8 L204.8 522.6 L205.4 523.3 L206.0 524.1 L206.6 524.9 L207.3 525.7 L207.9 526.4 L208.5 527.2 L209.2 528.0 L209.8 528.7 L210.4 529.5 L211.1 530.3 L211.7 531.0 L212.3 531.8 L213.0 532.6 L213.6 533.3 L214.3 534.1 L214.9 534.8 L215.5 535.6 L216.2 536.4 L216.8 537.1 L217.5 537.9 L218.1 538.6 L218.8 539.4 L219.4 540.1 L220.1 540.9 L220.7 541.6 L221.4 542.4 L222.0 543.1 L222.7 543.9 L223.3 544.6 L224.0 545.4 L224.7 546.1 L225.3 546.9 L226.0 547.6 L226.6 548.3 L227.3 549.1 L228.0 549.8 L228.6 550.6 L229.3 551.3 L229.9 552.0 L230.6 552.8 L231.3 553.5 L231.9 554.3 L232.6 555.0 L233.3 555.7 L234.0 556.5 L234.6 557.2 L235.3 557.9 L236.0 558.7 L236.6 559.4 L237.3 560.1 L238.0 560.9 L238.7 561.6 L239.3 562.3 L240.0 563.0 L240.7 563.8 L241.4 564.5 L242.1 565.2 L242.7 565.9 L243.4 566.7 L244.1 567.4 L244.8 568.1 L245.5 568.8 L246.2 569.5 L246.9 570.3 L247.5 571.0 L248.2 571.7 L248.9 572.4 L249.6 573.1 L250.3 573.8 L251.0 574.6 L251.7 575.3 L252.4 576.0 L253.1 576.7 L253.8 577.4 L254.5 578.1 L255.2 578.8 L255.9 579.6 L256.5 580.3 L257.2 581.0 L257.9 581.7 L258.6 582.4 L259.3 583.1 L260.0 583.8 L260.7 584.5 L261.5 585.2 L262.2 585.9 L262.9 586.6 L263.6 587.3 L264.3 588.0 L265.0 588.7 L265.7 589.4 L266.4 590.1 L267.1 590.8 L267.8 591.5 L268.5 592.2 L269.2 592.9 L269.9 593.6 L270.7 594.3 L271.4 595.0 L272.1 595.7 L272.8 596.4 L273.5 597.1 L274.2 597.8 L274.9 598.5 L275.6 599.2 L276.4 599.9 L277.1 600.6 L277.8 601.3 L278.5 602.0 L279.2 602.7 L280.0 603.4 L280.7 604.0 L281.4 604.7 L282.1 605.4 L282.8 606.1 L283.6 606.8 L284.3 607.5 L285.0 608.2 L285.7 608.9 L286.5 609.5 L287.2 610.2 L287.9 610.9 L288.6 611.6 L289.4 612.3 L290.1 613.0 L290.8 613.7 L291.5 614.4 L292.3 615.0 L293.0 615.7 L293.7 616.4 L294.5 617.1 L295.2 617.7 L295.9 618.4 L296.7 619.1 L297.4 619.8 L298.1 620.5 L298.9 621.2 L299.6 621.9 L300.3 622.6 L301.1 623.2 L301.8 623.9 L302.5 624.6 L303.3 625.2 L304.0 625.9 L304.7 626.6 L305.5 627.3 L306.2 627.9 L307.0 628.6 L307.7 629.2 L308.4 629.9 L309.2 630.6 L309.9 631.3 L310.7 632.0 L311.4 632.7 L312.1 633.4 L312.9 634.0 L313.6 634.7 L314.4 635.3 L315.1 636.0 L315.8 636.7 L316.6 637.4 L317.3 638.0 L318.1 638.7 L318.8 639.4 L319.6 640.1 L320.3 640.7 L321.1 641.4 L321.8 642.0 L322.6 642.7 L323.3 643.3 L324.1 644.0 L324.8 644.7 L325.6 645.4 L326.3 646.1 L327.1 646.8 L327.8 647.5 L328.6 648.1 L329.3 648.8 L330.1 649.4 L330.8 650.0 L331.6 650.6 L332.3 651.3 L333.1 652.0 L333.8 652.7 L334.6 653.4 L335.4 654.1 L336.1 654.7 L336.9 655.4 L337.6 656.0 L338.4 656.7 L339.1 657.3 L339.9 657.9 L340.7 658.5 L341.4 659.1 L342.2 659.6 L342.9 660.3 L343.7 660.9 L344.5 661.6 L345.2 662.3 L346.0 663.1 L346.7 663.8 L347.5 664.4 L348.3 665.1 L349.0 665.8 L349.8 666.5 L350.6 667.1 L351.3 667.7 L352.1 668.3 L352.9 668.9 L353.6 669.6 L354.4 670.4 L355.2 671.1 L355.9 671.6 L356.7 672.2 L357.5 672.8 L358.3 673.4 L359.0 674.1 L359.8 674.7 L360.6 675.3 L361.3 675.9 L362.1 676.5 L362.9 677.2 L363.7 678.0 L364.4 678.6 L365.2 679.1 L366.0 679.6 L366.8 680.3 L367.5 681.2 L368.3 682.0 L369.1 682.7 L369.9 683.2 L370.7 683.7 L371.4 684.3 L372.2 685.0 L373.0 685.7 L373.8 686.4 L374.6 687.2 L375.3 688.2 L376.1 689.3 L376.9 690.2 L377.7 690.7 L378.5 690.8 L379.3 690.9 L380.1 691.3 L380.8 692.1 L381.6 693.1 L382.4 694.1 L383.2 694.8 L384.0 695.2 L384.8 695.5 L385.6 695.7 L386.4 696.1 L387.1 696.8 L387.9 697.6 L388.7 698.3 L389.5 699.0 L390.3 699.5 L391.1 700.1 L391.9 700.5 L392.7 700.9 L393.5 701.4 L394.3 701.9 L395.1 702.7 L395.9 703.5 L396.7 704.2 L397.5 704.9 L398.3 705.6 L399.1 706.3 L399.9 706.8 L400.7 707.4 L401.5 707.8 L402.3 708.2 L403.1 708.8 L403.9 709.4 L404.7 710.1 L405.5 710.7 L406.3 711.3 L407.1 711.9 L407.9 712.5 L408.7 713.2 L409.5 713.9 L410.3 714.5 L411.1 715.1 L411.9 715.7 L412.7 716.3 L413.5 716.8 L414.3 717.6 L415.1 718.9 L416.0 721.4 L416.8 724.2 L417.6 725.2 L418.4 723.9 L419.2 722.3 L420.0 721.9 L420.8 722.2 L421.6 722.6 L422.5 723.2 L423.3 723.8 L424.1 724.4 L424.9 725.1 L425.7 725.7 L426.5 726.4 L427.4 727.1 L428.2 727.6 L429.0 728.0 L429.8 728.5 L430.6 729.1 L431.5 729.7 L432.3 730.3 L433.1 730.8 L433.9 731.4 L434.7 732.0 L435.6 732.7 L436.4 733.3 L437.2 734.0 L438.0 734.6 L438.9 735.2 L439.7 735.6 L440.5 736.1 L441.4 736.6 L442.2 737.1 L443.0 737.6 L443.8 738.2 L444.7 738.9 L445.5 739.5 L446.3 740.1 L447.2 740.6 L448.0 741.2 L448.8 741.8 L449.7 742.3 L450.5 742.8 L451.3 743.3 L452.2 743.9 L453.0 744.4 L453.9 745.0 L454.7 745.6 L455.5 746.1 L456.4 746.7 L457.2 747.2 L458.0 747.6 L458.9 748.1 L459.7 748.6 L460.6 749.1 L461.4 749.7 L462.3 750.3 L463.1 750.8 L463.9 751.5 L464.8 752.1 L465.6 752.7 L466.5 753.2 L467.3 753.6 L468.2 754.1 L469.0 754.6 L469.9 755.0 L470.7 755.5 L471.6 756.1 L472.4 756.7 L473.3 757.3 L474.1 757.8 L475.0 758.5 L475.8 759.1 L476.7 759.7 L477.5 760.2 L478.4 760.7 L479.3 761.2 L480.1 761.5 L481.0 761.9 L481.8 762.3 L482.7 763.0 L483.5 763.6 L484.4 764.2 L485.3 764.6 L486.1 765.1 L487.0 765.7 L487.8 766.4 L488.7 766.9 L489.6 767.4 L490.4 767.9 L491.3 768.4 L492.2 768.9 L493.0 769.4 L493.9 769.8 L494.7 770.2 L495.6 770.7 L496.5 771.1 L497.4 771.6 L498.2 772.1 L499.1 772.7 L500.0 773.3 L500.8 773.8 L501.7 774.2 L502.6 774.6 L503.4 775.1 L504.3 775.8 L505.2 776.4 L506.1 776.9 L506.9 777.4 L507.8 777.9 L508.7 778.4 L509.6 778.9 L510.4 779.3 L511.3 779.6 L512.2 780.0 L513.1 780.5 L513.9 781.0 L514.8 781.5 L515.7 781.9 L516.6 782.4 L517.5 782.8 L518.3 783.3 L519.2 783.8 L520.1 784.2 L521.0 784.7 L521.9 785.1 L522.8 785.6 L523.6 786.1 L524.5 786.7 L525.4 787.2 L526.3 787.7 L527.2 788.1 L528.1 788.5 L529.0 788.8 L529.9 789.1 L530.7 789.5 L531.6 790.0 L532.5 790.5 L533.4 790.9 L534.3 791.4 L535.2 791.9 L536.1 792.5 L537.0 793.1 L537.9 793.6 L538.8 794.0 L539.7 794.3 L540.6 794.7 L541.5 795.1 L542.4 795.6 L543.3 796.1 L544.2 796.5 L545.1 797.0 L546.0 797.5 L546.9 798.0 L547.8 798.4 L548.7 798.8 L549.6 799.2 L550.5 799.6 L551.4 800.1 L552.3 800.5 L553.2 800.8 L554.1 801.2 L555.0 801.6 L555.9 802.1 L556.8 802.5 L557.7 802.8 L558.6 803.2 L559.5 803.7 L560.4 804.2 L561.3 804.6 L562.2 805.0 L563.1 805.3 L564.1 805.6 L565.0 806.0 L565.9 806.4 L566.8 806.8 L567.7 807.2 L568.6 807.7 L569.5 808.1 L570.4 808.5 L571.3 808.9 L572.3 809.4 L573.2 809.7 L574.1 809.9 L575.0 810.2 L575.9 810.6 L576.8 811.1 L577.8 811.5 L578.7 812.0 L579.6 812.3 L580.5 812.7 L581.4 813.1 L582.4 813.4 L583.3 813.8 L584.2 814.1 L585.1 814.5 L586.1 815.0 L587.0 815.5 L587.9 815.9 L588.8 816.3 L589.7 816.6 L590.7 816.8 L591.6 817.2 L592.5 817.7 L593.5 818.1 L594.4 818.5 L595.3 818.8 L596.2 819.2 L597.2 819.5 L598.1 819.8 L599.0 820.1 L600.0 820.4 L600.9 820.8 L601.8 821.1 L602.8 821.3 L603.7 821.5 L604.6 821.7 L605.6 822.0 L606.5 822.6 L607.4 823.0 L608.4 823.5 L609.3 823.8 L610.2 824.2 L611.2 824.5 L612.1 824.8 L613.0 825.1 L614.0 825.3 L614.9 825.7 L615.9 826.0 L616.8 826.4 L617.7 826.7 L618.7 827.0 L619.6 827.3 L620.6 827.6 L621.5 827.9 L622.5 828.4 L623.4 828.8 L624.3 829.2 L625.3 829.5 L626.2 829.8 L627.2 830.1 L628.1 830.3 L629.1 830.6 L630.0 830.8 L631.0 831.0 L631.9 831.3 L632.9 831.7 L633.8 832.0 L634.8 832.3 L635.7 832.6 L636.7 832.8 L637.6 833.0 L638.6 833.1 L639.5 833.4 L640.5 833.7 L641.4 833.9 L642.4 834.1 L643.3 834.4 L644.3 834.7 L645.2 835.1 L646.2 835.5 L647.2 835.9 L648.1 836.1 L649.1 836.3 L650.0 836.4 L651.0 836.5 L651.9 836.6 L652.9 836.8 L653.9 837.1 L654.8 837.4 L655.8 837.7 L656.7 837.9 L657.7 838.2 L658.7 838.6 L659.6 839.0 L660.6 839.3 L661.6 839.4 L662.5 839.6 L663.5 839.8 L664.5 840.1 L665.4 840.4 L666.4 840.7 L667.4 840.9 L668.3 841.0 L669.3 841.0 L670.3 841.1 L671.2 841.4 L672.2 841.7 L673.2 842.0 L674.1 842.2 L675.1 842.5 L676.1 842.7 L677.0 842.9 L678.0 843.0 L679.0 843.3 L680.0 843.5 L680.9 843.7 L681.9 843.8 L682.9 843.8 L683.9 843.9 L684.8 844.1 L685.8 844.5 L686.8 844.8 L687.8 844.9 L688.7 845.0 L689.7 845.1 L690.7 845.4 L691.7 845.8 L692.7 846.0 L693.6 846.2 L694.6 846.2 L695.6 846.3 L696.6 846.4 L697.6 846.5 L698.5 846.7 L699.5 846.9 L700.5 847.1 L701.5 847.3 L702.5 847.5 L703.5 847.7 L704.4 848.0 L705.4 848.1 L706.4 848.3 L707.4 848.3 L708.4 848.2 L709.4 848.3 L710.4 848.5 L711.4 848.7 L712.3 849.0 L713.3 849.2 L714.3 849.4 L715.3 849.5 L716.3 849.6 L717.3 849.6 L718.3 849.7 L719.3 849.9 L720.3 850.1 L721.3 850.3 L722.3 850.4 L723.3 850.5 L724.2 850.5 L725.2 850.5 L726.2 850.6 L727.2 850.7 L728.2 850.9 L729.2 851.0 L730.2 851.2 L731.2 851.3 L732.2 851.4 L733.2 851.5 L734.2 851.5 L735.2 851.6 L736.2 851.6 L737.2 851.7 L738.2 851.9 L739.2 852.0 L740.2 852.0 L741.2 852.0 L742.2 852.0 L743.2 852.1 L744.2 852.3 L745.2 852.5 L746.2 852.6 L747.2 852.7 L748.2 852.7 L749.2 852.6 L750.3 852.5 L751.3 852.5 L752.3 852.5 L753.3 852.6 L754.3 852.8 L755.3 852.9 L756.3 853.0 L757.3 853.1 L758.3 853.2 L759.3 853.2 L760.3 853.2 L761.4 853.1 L762.4 853.1 L763.4 853.2 L764.4 853.3 L765.4 853.4 L766.4 853.4 L767.4 853.3 L768.4 853.3 L769.5 853.3 L770.5 853.4 L771.5 853.4 L772.5 853.5 L773.5 853.6 L774.5 853.6 L775.5 853.6 L776.6 853.6 L777.6 853.7 L778.6 853.7 L779.6 853.7 L780.6 853.6 L781.7 853.4 L782.7 853.2 L783.7 853.1 L784.7 853.2 L785.7 853.4 L786.8 853.4 L787.8 853.4 L788.8 853.3 L789.8 853.2 L790.9 853.1 L791.9 853.2 L792.9 853.3 L793.9 853.3 L795.0 853.2 L796.0 853.0 L797.0 853.0 L798.0 853.0 L799.1 853.0 L800.1 853.0 L801.1 852.9 L802.1 852.7 L803.2 852.5 L804.2 852.4 L805.2 852.4 L806.3 852.4 L807.3 852.4 L808.3 852.3 L809.4 852.3 L810.4 852.4 L811.4 852.3 L812.4 852.1 L813.5 851.9 L814.5 851.7 L815.5 851.6 L816.6 851.5 L817.6 851.4 L818.6 851.4 L819.7 851.5 L820.7 851.5 L821.8 851.4 L822.8 851.2 L823.8 850.9 L824.9 850.7 L825.9 850.5 L826.9 850.4 L828.0 850.3 L829.0 850.2 L830.1 850.1 L831.1 850.0 L832.1 849.9 L833.2 849.8"/>
</g>
<g font-family="Liberation Serif, serif" font-size="40.3" fill="#000">
<text transform="translate(112.8 910.1) scale(1 1.07)" text-anchor="end">-40</text>
<text transform="translate(112.8 790.5) scale(1 1.07)" text-anchor="end">-30</text>
<text transform="translate(112.8 670.9) scale(1 1.07)" text-anchor="end">-20</text>
<text transform="translate(112.8 551.3) scale(1 1.07)" text-anchor="end">-10</text>
<text transform="translate(112.8 431.7) scale(1 1.07)" text-anchor="end">0</text>
<text transform="translate(112.8 312.1) scale(1 1.07)" text-anchor="end">10</text>
<text transform="translate(126.2 1002.9) scale(1 1.07)" text-anchor="middle">0</text>
<text transform="translate(271.6 1002.9) scale(1 1.07)" text-anchor="middle">50</text>
<text transform="translate(416.9 1002.9) scale(1 1.07)" text-anchor="middle">100</text>
<text transform="translate(562.2 1002.9) scale(1 1.07)" text-anchor="middle">150</text>
<text transform="translate(707.6 1002.9) scale(1 1.07)" text-anchor="middle">200</text>
<text transform="translate(853.0 1002.9) scale(1 1.07)" text-anchor="middle">250</text>
</g>
<text font-family="Liberation Serif, serif" font-size="49" x="514.8" y="1064"><tspan font-style="italic">T</tspan> (K)</text>
<text font-family="Liberation Serif, serif" font-size="50.2" transform="translate(37.9 674.6) rotate(-90) scale(1 1.06)">S (μV/K)</text>
<text x="173.1" y="357.1" font-family="Liberation Serif, serif" font-size="48.5" font-weight="normal" font-style="normal">Ba</text>
<g transform="translate(229.5 0) scale(1.12 1) translate(-229.5 0)"><text x="227.5" y="357.1" font-family="Liberation Serif, serif" font-size="47" font-weight="bold" font-style="normal">(</text></g>
<text x="242.8" y="357.1" font-family="Liberation Serif, serif" font-size="48.5" font-weight="normal" font-style="normal">Fe</text>
<text x="293.2" y="377.2" font-family="Liberation Serif, serif" font-size="28" font-weight="normal" font-style="normal">1-x</text>
<text x="330.9" y="357.1" font-family="Liberation Serif, serif" font-size="48.5" font-weight="normal" font-style="normal">Rh</text>
<text x="387.5" y="377.2" font-family="Liberation Serif, serif" font-size="28" font-weight="normal" font-style="normal">x</text>
<g transform="translate(402.1 0) scale(1.14 1) translate(-402.1 0)"><text x="401.1" y="357.1" font-family="Liberation Serif, serif" font-size="47" font-weight="bold" font-style="normal">)</text></g>
<text x="418.3" y="377.2" font-family="Liberation Serif, serif" font-size="28" font-weight="normal" font-style="normal">2</text>
<text x="433.5" y="357.1" font-family="Liberation Serif, serif" font-size="48.5" font-weight="normal" font-style="normal">As</text>
<text x="487.1" y="377.2" font-family="Liberation Serif, serif" font-size="28" font-weight="normal" font-style="normal">2</text>
<path d="M227.2 398.5 h26.4 l-13.2 22.6 z" fill="none" stroke="#000" stroke-width="1.5"/>
<text x="259.0" y="422.1" font-family="Liberation Sans, sans-serif" font-size="35" font-weight="normal" font-style="italic">T</text>
<text x="290.2" y="422.6" font-family="Liberation Sans, sans-serif" font-size="36" font-weight="normal" font-style="normal">||</text>
<text x="317.5" y="422.1" font-family="Liberation Sans, sans-serif" font-size="34.5" font-weight="normal" font-style="normal">ab</text>
<text x="378.2" y="422.1" font-family="Liberation Sans, sans-serif" font-size="35" font-weight="normal" font-style="italic">H</text>
<text x="403.2" y="422.1" font-family="Liberation Sans, sans-serif" font-size="35" font-weight="normal" font-style="normal">=0</text>
<g font-family="Liberation Serif, serif" font-size="35" fill="#000">
<text x="554.5" y="345.1" font-size="33.5">x</text><text x="572.8" y="358.6" font-size="20.5">WDS</text>
<path d="M554 389.5 h23.3 M611 389.5 h23.3" stroke="#000000" stroke-width="1.3"/>
<rect x="583.7" y="379.0" width="21" height="21" fill="#000000"/>
<text x="643.3" y="401.8">x=0</text>
<path d="M554 433.1 h23.3 M611 433.1 h23.3" stroke="#ff0000" stroke-width="1.3"/>
<circle cx="594.2" cy="433.1" r="12.2" fill="#ff0000"/>
<text x="643.3" y="445.4">x=0.012</text>
<path d="M554 476.8 h23.3 M611 476.8 h23.3" stroke="#00ff00" stroke-width="1.3"/>
<path d="M594.2 461.3 l14 24 h-28 z" fill="#00ff00"/>
<text x="643.3" y="489.1">x=0.026</text>
<path d="M769.6 336.7 h24 M826.3 336.7 h22.7" stroke="#0000ff" stroke-width="1.3"/>
<circle cx="809.7" cy="336.7" r="10.4" fill="#fff" stroke="#0000ff" stroke-width="3.2"/>
<path d="M769.6 380.4 h24 M826.3 380.4 h22.7" stroke="#008080" stroke-width="1.3"/>
<rect x="800.7" y="371.4" width="18" height="18" fill="#fff" stroke="#008080" stroke-width="3.2" stroke-linejoin="round"/>
<path d="M769.6 424.0 h24 M826.3 424.0 h22.7" stroke="#ff00ff" stroke-width="1.3"/>
<path d="M809.7 409.0 l15 15 l-15 15 l-15 -15 z" fill="#ff00ff"/>
<path d="M133.9 835.3 h23.6 M191.2 835.3 h23.7" stroke="#ff8000" stroke-width="1.3"/>
<polygon points="174.4,822.4 177.7,832.1 187.9,832.2 179.7,838.3 182.7,848.1 174.4,842.2 166.1,848.1 169.1,838.3 160.9,832.2 171.1,832.1" fill="#ff8000"/>
<text x="224" y="847.6">x=0.096</text>
<path d="M133.9 878.7 h23.6 M191.2 878.7 h23.7" stroke="#8000ff" stroke-width="1.3"/>
<path d="M174.4 866.2 l11.5 20 h-23 z" fill="#fff" stroke="#8000ff" stroke-width="3.2" stroke-linejoin="miter"/>
<text x="224" y="891.0">x=0.13</text>
<path d="M133.9 923.5 h23.6 M191.2 923.5 h23.7" stroke="#800000" stroke-width="1.3"/>
<circle cx="174.4" cy="923.5" r="11.2" fill="#fff" stroke="#800000" stroke-width="1.6"/><path d="M174.4 912.3 a11.2 11.2 0 0 1 0 22.4 z" fill="#800000"/>
<text x="224" y="935.8">x=0.171</text>
</g>
</svg>
</body></html>
